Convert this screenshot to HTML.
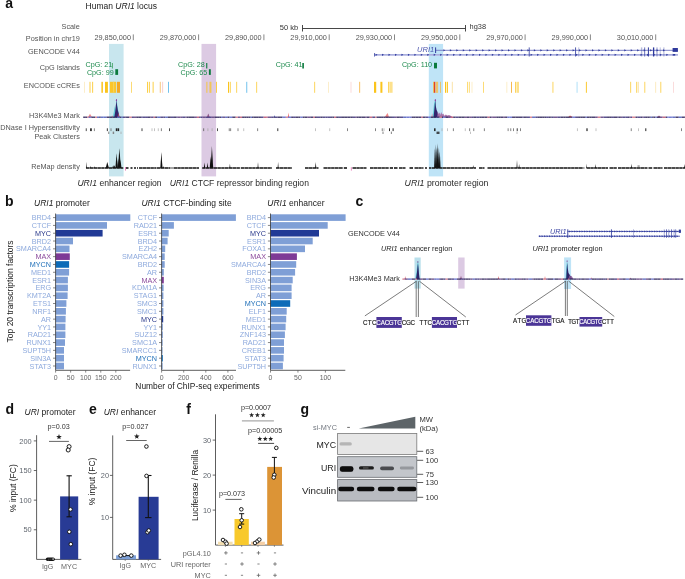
<!DOCTYPE html>
<html><head><meta charset="utf-8"><title>URI1 figure</title>
<style>
html,body{margin:0;padding:0;background:#fff;}
body{width:685px;height:579px;overflow:hidden;font-family:"Liberation Sans", sans-serif;}
svg{display:block;will-change:transform;}
</style></head>
<body>
<svg width="685" height="579" viewBox="0 0 685 579">
<rect x="0" y="0" width="685" height="579" fill="#fff"/>
<text x="5.2" y="7.9" font-size="14" fill="#111" text-anchor="start" font-weight="bold" font-style="normal" font-family="Liberation Sans" >a</text>
<text x="85.6" y="8.7" font-size="8.5" fill="#222" font-family="Liberation Sans">Human <tspan font-style="italic">URI1</tspan> locus</text>
<text x="79.8" y="29.2" font-size="7.3" fill="#555" text-anchor="end" font-weight="normal" font-style="normal" font-family="Liberation Sans" >Scale</text>
<text x="79.8" y="41" font-size="7.3" fill="#555" text-anchor="end" font-weight="normal" font-style="normal" font-family="Liberation Sans" >Position in chr19</text>
<text x="79.8" y="53.5" font-size="7.3" fill="#555" text-anchor="end" font-weight="normal" font-style="normal" font-family="Liberation Sans" >GENCODE V44</text>
<text x="79.8" y="69.9" font-size="7.3" fill="#555" text-anchor="end" font-weight="normal" font-style="normal" font-family="Liberation Sans" >CpG Islands</text>
<text x="79.8" y="88.3" font-size="7.3" fill="#555" text-anchor="end" font-weight="normal" font-style="normal" font-family="Liberation Sans" >ENCODE cCREs</text>
<text x="79.8" y="117.5" font-size="7.3" fill="#555" text-anchor="end" font-weight="normal" font-style="normal" font-family="Liberation Sans" >H3K4Me3 Mark</text>
<text x="79.8" y="130.2" font-size="7.3" fill="#555" text-anchor="end" font-weight="normal" font-style="normal" font-family="Liberation Sans" >DNase I Hypersensitivity</text>
<text x="79.8" y="138.9" font-size="7.3" fill="#555" text-anchor="end" font-weight="normal" font-style="normal" font-family="Liberation Sans" >Peak Clusters</text>
<text x="79.8" y="168.7" font-size="7.3" fill="#555" text-anchor="end" font-weight="normal" font-style="normal" font-family="Liberation Sans" >ReMap density</text>
<rect x="109.00" y="43.90" width="14.60" height="132.50" fill="#c8e6ee" />
<rect x="201.50" y="43.90" width="14.60" height="132.50" fill="#dccae3" />
<rect x="428.80" y="43.90" width="14.30" height="132.50" fill="#bfe4f7" />
<text x="279.8" y="29.6" font-size="7.5" fill="#333" text-anchor="start" font-weight="normal" font-style="normal" font-family="Liberation Sans" >50 kb</text>
<line x1="302.50" y1="28.50" x2="465.50" y2="28.50" stroke="#333" stroke-width="0.9" />
<line x1="302.50" y1="25.00" x2="302.50" y2="31.50" stroke="#333" stroke-width="0.9" />
<line x1="465.50" y1="25.00" x2="465.50" y2="31.50" stroke="#333" stroke-width="0.9" />
<text x="469.6" y="29.3" font-size="7.4" fill="#333" text-anchor="start" font-weight="normal" font-style="normal" font-family="Liberation Sans" >hg38</text>
<text x="131.0" y="40.1" font-size="7.3" fill="#555" text-anchor="end" font-weight="normal" font-style="normal" font-family="Liberation Sans" >29,850,000</text>
<line x1="133.30" y1="34.40" x2="133.30" y2="40.20" stroke="#555" stroke-width="0.7" />
<text x="196.3" y="40.1" font-size="7.3" fill="#555" text-anchor="end" font-weight="normal" font-style="normal" font-family="Liberation Sans" >29,870,000</text>
<line x1="198.60" y1="34.40" x2="198.60" y2="40.20" stroke="#555" stroke-width="0.7" />
<text x="261.59999999999997" y="40.1" font-size="7.3" fill="#555" text-anchor="end" font-weight="normal" font-style="normal" font-family="Liberation Sans" >29,890,000</text>
<line x1="263.90" y1="34.40" x2="263.90" y2="40.20" stroke="#555" stroke-width="0.7" />
<text x="326.9" y="40.1" font-size="7.3" fill="#555" text-anchor="end" font-weight="normal" font-style="normal" font-family="Liberation Sans" >29,910,000</text>
<line x1="329.20" y1="34.40" x2="329.20" y2="40.20" stroke="#555" stroke-width="0.7" />
<text x="392.2" y="40.1" font-size="7.3" fill="#555" text-anchor="end" font-weight="normal" font-style="normal" font-family="Liberation Sans" >29,930,000</text>
<line x1="394.50" y1="34.40" x2="394.50" y2="40.20" stroke="#555" stroke-width="0.7" />
<text x="457.5" y="40.1" font-size="7.3" fill="#555" text-anchor="end" font-weight="normal" font-style="normal" font-family="Liberation Sans" >29,950,000</text>
<line x1="459.80" y1="34.40" x2="459.80" y2="40.20" stroke="#555" stroke-width="0.7" />
<text x="522.8" y="40.1" font-size="7.3" fill="#555" text-anchor="end" font-weight="normal" font-style="normal" font-family="Liberation Sans" >29,970,000</text>
<line x1="525.10" y1="34.40" x2="525.10" y2="40.20" stroke="#555" stroke-width="0.7" />
<text x="588.1" y="40.1" font-size="7.3" fill="#555" text-anchor="end" font-weight="normal" font-style="normal" font-family="Liberation Sans" >29,990,000</text>
<line x1="590.40" y1="34.40" x2="590.40" y2="40.20" stroke="#555" stroke-width="0.7" />
<text x="653.4000000000001" y="40.1" font-size="7.3" fill="#555" text-anchor="end" font-weight="normal" font-style="normal" font-family="Liberation Sans" >30,010,000</text>
<line x1="655.70" y1="34.40" x2="655.70" y2="40.20" stroke="#555" stroke-width="0.7" />
<text x="434.2" y="52.1" font-size="7.5" fill="#4a54ac" font-style="italic" text-anchor="end" font-family="Liberation Sans">URI1</text>
<line x1="436.00" y1="50.30" x2="678.00" y2="50.30" stroke="#7c82c6" stroke-width="1.0" />
<line x1="374.20" y1="54.80" x2="678.00" y2="54.80" stroke="#b8bce6" stroke-width="1.8" />
<line x1="374.20" y1="54.80" x2="678.00" y2="54.80" stroke="#8a90cc" stroke-width="0.4" />
<path d="M443.41,49.20 L445.28,50.30 L443.41,51.40 Z" fill="#2f3a9c"/>
<path d="M449.87,49.20 L451.74,50.30 L449.87,51.40 Z" fill="#2f3a9c"/>
<path d="M456.33,49.20 L458.20,50.30 L456.33,51.40 Z" fill="#2f3a9c"/>
<path d="M462.79,49.20 L464.66,50.30 L462.79,51.40 Z" fill="#2f3a9c"/>
<path d="M469.25,49.20 L471.12,50.30 L469.25,51.40 Z" fill="#2f3a9c"/>
<path d="M475.71,49.20 L477.58,50.30 L475.71,51.40 Z" fill="#2f3a9c"/>
<path d="M482.17,49.20 L484.04,50.30 L482.17,51.40 Z" fill="#2f3a9c"/>
<path d="M488.63,49.20 L490.50,50.30 L488.63,51.40 Z" fill="#2f3a9c"/>
<path d="M495.09,49.20 L496.96,50.30 L495.09,51.40 Z" fill="#2f3a9c"/>
<path d="M501.55,49.20 L503.42,50.30 L501.55,51.40 Z" fill="#2f3a9c"/>
<path d="M508.01,49.20 L509.88,50.30 L508.01,51.40 Z" fill="#2f3a9c"/>
<path d="M514.47,49.20 L516.34,50.30 L514.47,51.40 Z" fill="#2f3a9c"/>
<path d="M520.93,49.20 L522.80,50.30 L520.93,51.40 Z" fill="#2f3a9c"/>
<path d="M527.39,49.20 L529.26,50.30 L527.39,51.40 Z" fill="#2f3a9c"/>
<path d="M533.85,49.20 L535.72,50.30 L533.85,51.40 Z" fill="#2f3a9c"/>
<path d="M540.31,49.20 L542.18,50.30 L540.31,51.40 Z" fill="#2f3a9c"/>
<path d="M546.77,49.20 L548.64,50.30 L546.77,51.40 Z" fill="#2f3a9c"/>
<path d="M553.23,49.20 L555.10,50.30 L553.23,51.40 Z" fill="#2f3a9c"/>
<path d="M559.69,49.20 L561.56,50.30 L559.69,51.40 Z" fill="#2f3a9c"/>
<path d="M566.15,49.20 L568.02,50.30 L566.15,51.40 Z" fill="#2f3a9c"/>
<path d="M572.61,49.20 L574.48,50.30 L572.61,51.40 Z" fill="#2f3a9c"/>
<path d="M579.07,49.20 L580.94,50.30 L579.07,51.40 Z" fill="#2f3a9c"/>
<path d="M585.53,49.20 L587.40,50.30 L585.53,51.40 Z" fill="#2f3a9c"/>
<path d="M591.99,49.20 L593.86,50.30 L591.99,51.40 Z" fill="#2f3a9c"/>
<path d="M598.45,49.20 L600.32,50.30 L598.45,51.40 Z" fill="#2f3a9c"/>
<path d="M604.91,49.20 L606.78,50.30 L604.91,51.40 Z" fill="#2f3a9c"/>
<path d="M611.37,49.20 L613.24,50.30 L611.37,51.40 Z" fill="#2f3a9c"/>
<path d="M617.83,49.20 L619.70,50.30 L617.83,51.40 Z" fill="#2f3a9c"/>
<path d="M624.29,49.20 L626.16,50.30 L624.29,51.40 Z" fill="#2f3a9c"/>
<path d="M630.75,49.20 L632.62,50.30 L630.75,51.40 Z" fill="#2f3a9c"/>
<path d="M637.21,49.20 L639.08,50.30 L637.21,51.40 Z" fill="#2f3a9c"/>
<path d="M643.67,49.20 L645.54,50.30 L643.67,51.40 Z" fill="#2f3a9c"/>
<path d="M650.13,49.20 L652.00,50.30 L650.13,51.40 Z" fill="#2f3a9c"/>
<path d="M656.59,49.20 L658.46,50.30 L656.59,51.40 Z" fill="#2f3a9c"/>
<path d="M663.05,49.20 L664.92,50.30 L663.05,51.40 Z" fill="#2f3a9c"/>
<path d="M375.61,53.70 L377.48,54.80 L375.61,55.90 Z" fill="#2f3a9c"/>
<path d="M382.07,53.70 L383.94,54.80 L382.07,55.90 Z" fill="#2f3a9c"/>
<path d="M388.53,53.70 L390.40,54.80 L388.53,55.90 Z" fill="#2f3a9c"/>
<path d="M394.99,53.70 L396.86,54.80 L394.99,55.90 Z" fill="#2f3a9c"/>
<path d="M401.45,53.70 L403.32,54.80 L401.45,55.90 Z" fill="#2f3a9c"/>
<path d="M407.91,53.70 L409.78,54.80 L407.91,55.90 Z" fill="#2f3a9c"/>
<path d="M414.37,53.70 L416.24,54.80 L414.37,55.90 Z" fill="#2f3a9c"/>
<path d="M420.83,53.70 L422.70,54.80 L420.83,55.90 Z" fill="#2f3a9c"/>
<path d="M427.29,53.70 L429.16,54.80 L427.29,55.90 Z" fill="#2f3a9c"/>
<path d="M433.75,53.70 L435.62,54.80 L433.75,55.90 Z" fill="#2f3a9c"/>
<path d="M440.21,53.70 L442.08,54.80 L440.21,55.90 Z" fill="#2f3a9c"/>
<path d="M446.67,53.70 L448.54,54.80 L446.67,55.90 Z" fill="#2f3a9c"/>
<path d="M453.13,53.70 L455.00,54.80 L453.13,55.90 Z" fill="#2f3a9c"/>
<path d="M459.59,53.70 L461.46,54.80 L459.59,55.90 Z" fill="#2f3a9c"/>
<path d="M466.05,53.70 L467.92,54.80 L466.05,55.90 Z" fill="#2f3a9c"/>
<path d="M472.51,53.70 L474.38,54.80 L472.51,55.90 Z" fill="#2f3a9c"/>
<path d="M478.97,53.70 L480.84,54.80 L478.97,55.90 Z" fill="#2f3a9c"/>
<path d="M485.43,53.70 L487.30,54.80 L485.43,55.90 Z" fill="#2f3a9c"/>
<path d="M491.89,53.70 L493.76,54.80 L491.89,55.90 Z" fill="#2f3a9c"/>
<path d="M498.35,53.70 L500.22,54.80 L498.35,55.90 Z" fill="#2f3a9c"/>
<path d="M504.81,53.70 L506.68,54.80 L504.81,55.90 Z" fill="#2f3a9c"/>
<path d="M511.27,53.70 L513.14,54.80 L511.27,55.90 Z" fill="#2f3a9c"/>
<path d="M517.73,53.70 L519.60,54.80 L517.73,55.90 Z" fill="#2f3a9c"/>
<path d="M524.19,53.70 L526.06,54.80 L524.19,55.90 Z" fill="#2f3a9c"/>
<path d="M530.65,53.70 L532.52,54.80 L530.65,55.90 Z" fill="#2f3a9c"/>
<path d="M537.11,53.70 L538.98,54.80 L537.11,55.90 Z" fill="#2f3a9c"/>
<path d="M543.57,53.70 L545.44,54.80 L543.57,55.90 Z" fill="#2f3a9c"/>
<path d="M550.03,53.70 L551.90,54.80 L550.03,55.90 Z" fill="#2f3a9c"/>
<path d="M556.49,53.70 L558.36,54.80 L556.49,55.90 Z" fill="#2f3a9c"/>
<path d="M562.95,53.70 L564.82,54.80 L562.95,55.90 Z" fill="#2f3a9c"/>
<path d="M569.41,53.70 L571.28,54.80 L569.41,55.90 Z" fill="#2f3a9c"/>
<path d="M575.87,53.70 L577.74,54.80 L575.87,55.90 Z" fill="#2f3a9c"/>
<path d="M582.33,53.70 L584.20,54.80 L582.33,55.90 Z" fill="#2f3a9c"/>
<path d="M588.79,53.70 L590.66,54.80 L588.79,55.90 Z" fill="#2f3a9c"/>
<path d="M595.25,53.70 L597.12,54.80 L595.25,55.90 Z" fill="#2f3a9c"/>
<path d="M601.71,53.70 L603.58,54.80 L601.71,55.90 Z" fill="#2f3a9c"/>
<path d="M608.17,53.70 L610.04,54.80 L608.17,55.90 Z" fill="#2f3a9c"/>
<path d="M614.63,53.70 L616.50,54.80 L614.63,55.90 Z" fill="#2f3a9c"/>
<path d="M621.09,53.70 L622.96,54.80 L621.09,55.90 Z" fill="#2f3a9c"/>
<path d="M627.55,53.70 L629.42,54.80 L627.55,55.90 Z" fill="#2f3a9c"/>
<path d="M634.01,53.70 L635.88,54.80 L634.01,55.90 Z" fill="#2f3a9c"/>
<path d="M640.47,53.70 L642.34,54.80 L640.47,55.90 Z" fill="#2f3a9c"/>
<path d="M646.93,53.70 L648.80,54.80 L646.93,55.90 Z" fill="#2f3a9c"/>
<path d="M653.39,53.70 L655.26,54.80 L653.39,55.90 Z" fill="#2f3a9c"/>
<path d="M659.85,53.70 L661.72,54.80 L659.85,55.90 Z" fill="#2f3a9c"/>
<path d="M666.31,53.70 L668.18,54.80 L666.31,55.90 Z" fill="#2f3a9c"/>
<path d="M672.77,53.70 L674.64,54.80 L672.77,55.90 Z" fill="#2f3a9c"/>
<rect x="374.10" y="53.00" width="0.70" height="3.60" fill="#2f3a9c" />
<rect x="435.10" y="47.40" width="1.00" height="5.60" fill="#2f3a9c" />
<rect x="528.75" y="47.40" width="0.90" height="9.10" fill="#2f3a9c" opacity="0.9"/>
<rect x="575.15" y="47.40" width="0.90" height="9.10" fill="#2f3a9c" opacity="0.9"/>
<rect x="578.40" y="47.40" width="0.80" height="9.10" fill="#2f3a9c" opacity="0.4"/>
<rect x="640.90" y="47.40" width="1.40" height="9.10" fill="#2f3a9c" opacity="0.35"/>
<rect x="644.25" y="47.40" width="0.90" height="9.10" fill="#2f3a9c" opacity="0.8"/>
<rect x="647.90" y="47.40" width="1.00" height="9.10" fill="#2f3a9c" opacity="1.0"/>
<rect x="652.95" y="47.40" width="1.30" height="9.10" fill="#2f3a9c" opacity="1.0"/>
<rect x="656.55" y="47.40" width="0.90" height="9.10" fill="#2f3a9c" opacity="0.6"/>
<rect x="659.75" y="47.40" width="0.90" height="9.10" fill="#2f3a9c" opacity="0.35"/>
<rect x="663.45" y="47.40" width="0.90" height="9.10" fill="#2f3a9c" opacity="0.45"/>
<rect x="672.60" y="48.00" width="5.30" height="3.90" fill="#2f3a9c" />
<rect x="673.60" y="54.00" width="1.60" height="1.60" fill="#2f3a9c" />
<text x="85.5" y="67.4" font-size="7.2" fill="#1d8a4d" text-anchor="start" font-weight="normal" font-style="normal" font-family="Liberation Sans" >CpG: 21</text>
<rect x="111.90" y="63.00" width="1.10" height="5.50" fill="#5cb07e" />
<text x="86.9" y="74.9" font-size="7.2" fill="#1d8a4d" text-anchor="start" font-weight="normal" font-style="normal" font-family="Liberation Sans" >CpG: 99</text>
<rect x="115.30" y="69.20" width="2.80" height="5.70" fill="#0b7a3c" />
<text x="178.0" y="67.4" font-size="7.2" fill="#1d8a4d" text-anchor="start" font-weight="normal" font-style="normal" font-family="Liberation Sans" >CpG: 28</text>
<rect x="206.20" y="63.00" width="1.10" height="5.50" fill="#0b7a3c" />
<text x="180.5" y="74.9" font-size="7.2" fill="#1d8a4d" text-anchor="start" font-weight="normal" font-style="normal" font-family="Liberation Sans" >CpG: 65</text>
<rect x="208.90" y="69.20" width="1.90" height="5.70" fill="#0b7a3c" />
<text x="275.7" y="67.4" font-size="7.2" fill="#1d8a4d" text-anchor="start" font-weight="normal" font-style="normal" font-family="Liberation Sans" >CpG: 41</text>
<rect x="302.30" y="63.00" width="1.60" height="5.50" fill="#0b7a3c" />
<text x="401.9" y="67.4" font-size="7.2" fill="#1d8a4d" text-anchor="start" font-weight="normal" font-style="normal" font-family="Liberation Sans" >CpG: 110</text>
<rect x="434.00" y="62.80" width="3.00" height="5.60" fill="#0b7a3c" />
<rect x="84.40" y="81.80" width="0.60" height="11.00" fill="#fbe3a8" />
<rect x="89.60" y="81.80" width="0.80" height="11.00" fill="#fbc41c" />
<rect x="92.30" y="81.80" width="0.80" height="11.00" fill="#fbc41c" />
<rect x="101.40" y="81.80" width="1.50" height="11.00" fill="#fbc41c" />
<rect x="105.00" y="81.80" width="2.90" height="11.00" fill="#fbc41c" />
<rect x="110.00" y="81.80" width="6.20" height="11.00" fill="#fbc62a" />
<rect x="113.00" y="81.80" width="1.20" height="11.00" fill="#f6d25a" />
<rect x="117.00" y="81.80" width="3.00" height="11.00" fill="#f4a824" />
<rect x="131.20" y="81.80" width="0.60" height="11.00" fill="#fbc41c" />
<rect x="147.10" y="81.80" width="0.80" height="11.00" fill="#fbc41c" />
<rect x="148.90" y="81.80" width="0.80" height="11.00" fill="#fbc41c" />
<rect x="152.70" y="81.80" width="0.80" height="11.00" fill="#fbc41c" />
<rect x="159.70" y="81.80" width="1.30" height="11.00" fill="#f8d39a" />
<rect x="162.30" y="81.80" width="0.80" height="11.00" fill="#f7c4c4" />
<rect x="168.10" y="81.80" width="0.80" height="11.00" fill="#4fb3e8" />
<rect x="206.50" y="81.80" width="0.80" height="11.00" fill="#fbc41c" />
<rect x="209.60" y="81.80" width="0.80" height="11.00" fill="#fbc41c" />
<rect x="210.50" y="81.80" width="0.80" height="11.00" fill="#fbc41c" />
<rect x="216.10" y="81.80" width="0.80" height="11.00" fill="#fbc41c" />
<rect x="228.00" y="81.80" width="1.00" height="11.00" fill="#fbc41c" />
<rect x="229.80" y="81.80" width="0.80" height="11.00" fill="#fbc41c" />
<rect x="236.40" y="81.80" width="0.70" height="11.00" fill="#fbc41c" />
<rect x="246.40" y="81.80" width="0.80" height="11.00" fill="#4fb3e8" />
<rect x="256.40" y="81.80" width="0.70" height="11.00" fill="#fbc41c" />
<rect x="314.40" y="81.80" width="0.70" height="11.00" fill="#fbc41c" />
<rect x="328.40" y="81.80" width="0.60" height="11.00" fill="#fbe3a8" />
<rect x="350.70" y="81.80" width="0.60" height="11.00" fill="#f7c4c4" />
<rect x="359.40" y="81.80" width="0.70" height="11.00" fill="#f4a824" />
<rect x="374.00" y="81.80" width="2.20" height="11.00" fill="#fbc41c" />
<rect x="380.40" y="81.80" width="2.00" height="11.00" fill="#fbc41c" />
<rect x="388.30" y="81.80" width="0.80" height="11.00" fill="#fbc41c" />
<rect x="389.70" y="81.80" width="0.80" height="11.00" fill="#fbc41c" />
<rect x="391.50" y="81.80" width="0.80" height="11.00" fill="#fbc41c" />
<rect x="433.00" y="81.80" width="0.70" height="11.00" fill="#fbc41c" />
<rect x="433.90" y="81.80" width="1.40" height="11.00" fill="#e3402a" />
<rect x="435.60" y="81.80" width="2.50" height="11.00" fill="#ebc064" />
<rect x="436.80" y="81.80" width="0.50" height="11.00" fill="#f3d488" />
<rect x="440.00" y="81.80" width="0.90" height="11.00" fill="#e9c062" />
<rect x="445.00" y="81.80" width="1.10" height="11.00" fill="#fbc41c" />
<rect x="446.80" y="81.80" width="1.10" height="11.00" fill="#fbc41c" />
<rect x="451.80" y="81.80" width="1.00" height="11.00" fill="#fbe3a8" />
<rect x="467.10" y="81.80" width="0.60" height="11.00" fill="#fbc41c" />
<rect x="468.90" y="81.80" width="0.60" height="11.00" fill="#fbc41c" />
<rect x="471.70" y="81.80" width="0.60" height="11.00" fill="#fbe3a8" />
<rect x="483.40" y="81.80" width="0.60" height="11.00" fill="#fbc41c" />
<rect x="506.60" y="81.80" width="0.60" height="11.00" fill="#fbe3a8" />
<rect x="511.10" y="81.80" width="0.80" height="11.00" fill="#f4a824" />
<rect x="515.30" y="81.80" width="1.00" height="11.00" fill="#fbc41c" />
<rect x="517.50" y="81.80" width="1.00" height="11.00" fill="#fbc41c" />
<rect x="552.60" y="81.80" width="0.70" height="11.00" fill="#fbc41c" />
<rect x="576.70" y="81.80" width="0.70" height="11.00" fill="#8fd3f4" />
<rect x="585.90" y="81.80" width="0.90" height="11.00" fill="#fbc41c" />
<rect x="630.40" y="81.80" width="0.70" height="11.00" fill="#fbc41c" />
<rect x="636.40" y="81.80" width="0.80" height="11.00" fill="#fbc41c" />
<rect x="638.00" y="81.80" width="0.80" height="11.00" fill="#fbe3a8" />
<rect x="644.50" y="81.80" width="0.70" height="11.00" fill="#fbc41c" />
<rect x="655.40" y="81.80" width="0.70" height="11.00" fill="#fbe3a8" />
<rect x="660.50" y="81.80" width="0.70" height="11.00" fill="#fbc41c" />
<rect x="673.30" y="81.80" width="0.60" height="11.00" fill="#f7c4c4" />
<polygon points="88.00,117.20 90.00,113.80 92.00,117.20" fill="#f08a8a" />
<polygon points="112.80,117.20 114.00,111.00 114.60,105.70 115.10,110.00 115.80,106.50 116.20,99.40 116.70,99.40 117.40,106.00 118.50,112.00 119.70,117.20" fill="#62c9d6" />
<polygon points="114.30,117.20 115.30,111.00 115.90,105.00 116.45,100.60 117.00,105.00 117.90,110.50 118.80,113.80 119.30,117.20" fill="#33256e" />
<polygon points="117.60,117.20 118.30,112.50 119.60,117.20" fill="#a0406a" />
<ellipse cx="116.45" cy="100.3" rx="0.55" ry="1.3" fill="#8a3a9a"/>
<polygon points="111.50,117.20 112.20,115.30 113.00,117.20" fill="#e07a8a" />
<polygon points="207.00,117.20 208.30,113.40 209.60,117.20" fill="#7a4a8a" />
<polygon points="207.60,117.20 208.00,114.20 208.50,117.20" fill="#e07a8a" />
<polygon points="287.80,117.20 288.50,112.50 289.20,117.20" fill="#f07070" />
<polygon points="384.70,117.20 386.30,114.80 387.70,112.90 389.00,117.20" fill="#f08a8a" />
<polygon points="274.00,117.20 274.60,115.00 275.20,117.20" fill="#5a64c8" />
<polygon points="431.30,117.20 432.20,113.20 433.00,117.20" fill="#e58aa0" />
<polygon points="432.60,117.20 433.40,110.00 434.10,103.50 434.70,101.20 435.40,99.30 435.90,105.00 436.50,117.20" fill="#62c9d6" />
<polygon points="433.60,117.20 434.50,108.00 435.20,99.80 435.80,106.00 436.60,110.00 437.60,112.20 438.60,117.20" fill="#33256e" />
<polygon points="437.00,117.20 437.80,111.50 438.60,114.00 439.50,112.60 440.30,115.00 441.20,111.90 442.20,114.50 443.30,113.40 444.40,115.80 445.80,114.60 447.40,115.60 449.00,114.90 451.00,115.90 452.80,117.20" fill="#a0609e" opacity="0.85"/>
<ellipse cx="435.3" cy="100.2" rx="0.55" ry="1.3" fill="#8a3a9a"/>
<polygon points="568.00,117.20 570.00,115.60 573.00,117.20" fill="#e07070" />
<polygon points="657.00,117.20 659.00,115.60 661.00,117.20" fill="#b070a0" />
<rect x="83.20" y="116.58" width="1.94" height="1.25" fill="#2b2157" />
<rect x="85.14" y="116.58" width="2.11" height="1.25" fill="#2b2157" />
<rect x="87.25" y="116.58" width="1.37" height="1.25" fill="#d07080" />
<rect x="88.62" y="116.58" width="1.42" height="1.25" fill="#4a5ab8" />
<rect x="90.04" y="116.58" width="1.33" height="1.25" fill="#5a64c8" />
<rect x="91.37" y="116.58" width="1.69" height="1.25" fill="#2b2157" />
<rect x="93.06" y="116.58" width="2.20" height="1.25" fill="#2b2157" />
<rect x="95.26" y="116.58" width="1.75" height="1.25" fill="#d07080" />
<rect x="97.01" y="116.58" width="2.18" height="1.25" fill="#4a5ab8" />
<rect x="99.19" y="116.58" width="1.48" height="1.25" fill="#2b2157" />
<rect x="100.68" y="116.58" width="2.65" height="1.25" fill="#4a5ab8" />
<rect x="103.33" y="116.58" width="3.38" height="1.25" fill="#4a5ab8" />
<rect x="106.71" y="116.58" width="2.55" height="1.25" fill="#2b2157" />
<rect x="109.25" y="116.58" width="3.45" height="1.25" fill="#2b2157" />
<rect x="112.70" y="116.58" width="2.48" height="1.25" fill="#2b2157" />
<rect x="115.18" y="116.58" width="1.87" height="1.25" fill="#2b2157" />
<rect x="117.04" y="116.58" width="2.44" height="1.25" fill="#4a5ab8" />
<rect x="119.49" y="116.58" width="1.91" height="1.25" fill="#2b2157" />
<rect x="121.40" y="116.58" width="1.44" height="1.25" fill="#4a5ab8" />
<rect x="122.83" y="116.58" width="2.67" height="1.25" fill="#3a2f78" />
<rect x="125.50" y="116.58" width="1.42" height="1.25" fill="#2b2157" />
<rect x="126.93" y="116.58" width="2.50" height="1.25" fill="#2b2157" />
<rect x="129.43" y="116.58" width="2.34" height="1.25" fill="#d07080" />
<rect x="131.77" y="116.58" width="2.18" height="1.25" fill="#3a2f78" />
<rect x="133.95" y="116.58" width="2.27" height="1.25" fill="#5a3a7a" />
<rect x="136.22" y="116.58" width="2.03" height="1.25" fill="#2b2157" />
<rect x="138.25" y="116.58" width="3.03" height="1.25" fill="#2b2157" />
<rect x="141.28" y="116.58" width="1.39" height="1.25" fill="#3a2f78" />
<rect x="142.67" y="116.58" width="2.41" height="1.25" fill="#3a2f78" />
<rect x="145.08" y="116.58" width="2.88" height="1.25" fill="#3a2f78" />
<rect x="147.95" y="116.58" width="2.60" height="1.25" fill="#2b2157" />
<rect x="150.56" y="116.58" width="1.47" height="1.25" fill="#5a3a7a" />
<rect x="152.03" y="116.58" width="1.58" height="1.25" fill="#3a2f78" />
<rect x="153.61" y="116.58" width="1.55" height="1.25" fill="#b8506e" />
<rect x="155.16" y="116.58" width="2.17" height="1.25" fill="#2b2157" />
<rect x="157.33" y="116.58" width="2.96" height="1.25" fill="#4a5ab8" />
<rect x="160.28" y="116.58" width="3.01" height="1.25" fill="#3a2f78" />
<rect x="163.30" y="116.58" width="1.98" height="1.25" fill="#3a2f78" />
<rect x="165.28" y="116.58" width="2.57" height="1.25" fill="#4a5ab8" />
<rect x="167.85" y="116.58" width="3.03" height="1.25" fill="#2b2157" />
<rect x="170.88" y="116.58" width="3.13" height="1.25" fill="#3a2f78" />
<rect x="174.01" y="116.58" width="2.29" height="1.25" fill="#2b2157" />
<rect x="176.30" y="116.58" width="1.34" height="1.25" fill="#3a2f78" />
<rect x="177.64" y="116.58" width="2.69" height="1.25" fill="#5a3a7a" />
<rect x="180.33" y="116.58" width="1.85" height="1.25" fill="#5a3a7a" />
<rect x="182.19" y="116.58" width="3.24" height="1.25" fill="#3a2f78" />
<rect x="185.43" y="116.58" width="1.25" height="1.25" fill="#5a3a7a" />
<rect x="186.68" y="116.58" width="2.02" height="1.25" fill="#2b2157" />
<rect x="188.70" y="116.58" width="2.34" height="1.25" fill="#2b2157" />
<rect x="191.03" y="116.58" width="2.97" height="1.25" fill="#2b2157" />
<rect x="194.00" y="116.58" width="2.90" height="1.25" fill="#5a3a7a" />
<rect x="196.90" y="116.58" width="2.10" height="1.25" fill="#b8506e" />
<rect x="199.00" y="116.58" width="1.39" height="1.25" fill="#5a3a7a" />
<rect x="200.38" y="116.58" width="2.12" height="1.25" fill="#3a2f78" />
<rect x="202.50" y="116.58" width="3.23" height="1.25" fill="#5a3a7a" />
<rect x="205.74" y="116.58" width="3.19" height="1.25" fill="#3a2f78" />
<rect x="208.92" y="116.58" width="2.82" height="1.25" fill="#3a2f78" />
<rect x="211.75" y="116.58" width="2.77" height="1.25" fill="#5a3a7a" />
<rect x="214.52" y="116.58" width="3.40" height="1.25" fill="#2b2157" />
<rect x="217.92" y="116.58" width="1.39" height="1.25" fill="#2b2157" />
<rect x="219.31" y="116.58" width="1.73" height="1.25" fill="#2b2157" />
<rect x="221.05" y="116.58" width="1.23" height="1.25" fill="#4a5ab8" />
<rect x="222.27" y="116.58" width="1.62" height="1.25" fill="#3a2f78" />
<rect x="223.89" y="116.58" width="1.21" height="1.25" fill="#5a3a7a" />
<rect x="225.10" y="116.58" width="2.43" height="1.25" fill="#4a5ab8" />
<rect x="227.53" y="116.58" width="1.93" height="1.25" fill="#2b2157" />
<rect x="229.46" y="116.58" width="2.79" height="1.25" fill="#5a64c8" />
<rect x="232.25" y="116.58" width="3.39" height="1.25" fill="#2b2157" />
<rect x="235.64" y="116.58" width="2.25" height="1.25" fill="#d07080" />
<rect x="237.89" y="116.58" width="2.10" height="1.25" fill="#5a3a7a" />
<rect x="239.99" y="116.58" width="2.11" height="1.25" fill="#b8506e" />
<rect x="242.10" y="116.58" width="2.66" height="1.25" fill="#2b2157" />
<rect x="244.76" y="116.58" width="1.64" height="1.25" fill="#2b2157" />
<rect x="246.39" y="116.58" width="2.21" height="1.25" fill="#2b2157" />
<rect x="248.61" y="116.58" width="1.98" height="1.25" fill="#2b2157" />
<rect x="250.59" y="116.58" width="1.44" height="1.25" fill="#4a5ab8" />
<rect x="252.03" y="116.58" width="1.55" height="1.25" fill="#2b2157" />
<rect x="253.57" y="116.58" width="3.38" height="1.25" fill="#2b2157" />
<rect x="256.96" y="116.58" width="1.36" height="1.25" fill="#2b2157" />
<rect x="258.32" y="116.58" width="2.61" height="1.25" fill="#2b2157" />
<rect x="260.93" y="116.58" width="2.66" height="1.25" fill="#3a2f78" />
<rect x="263.59" y="116.58" width="2.59" height="1.25" fill="#b8506e" />
<rect x="266.17" y="116.58" width="1.48" height="1.25" fill="#b8506e" />
<rect x="267.66" y="116.58" width="3.48" height="1.25" fill="#5a3a7a" />
<rect x="271.14" y="116.58" width="2.30" height="1.25" fill="#3a2f78" />
<rect x="273.45" y="116.58" width="1.40" height="1.25" fill="#2b2157" />
<rect x="274.84" y="116.58" width="2.92" height="1.25" fill="#3a2f78" />
<rect x="277.77" y="116.58" width="2.30" height="1.25" fill="#2b2157" />
<rect x="280.07" y="116.58" width="2.39" height="1.25" fill="#2b2157" />
<rect x="282.46" y="116.58" width="3.39" height="1.25" fill="#5a64c8" />
<rect x="285.84" y="116.58" width="2.03" height="1.25" fill="#d07080" />
<rect x="287.88" y="116.58" width="3.30" height="1.25" fill="#5a64c8" />
<rect x="291.18" y="116.58" width="1.89" height="1.25" fill="#2b2157" />
<rect x="293.06" y="116.58" width="2.80" height="1.25" fill="#3a2f78" />
<rect x="295.87" y="116.58" width="2.39" height="1.25" fill="#2b2157" />
<rect x="298.26" y="116.58" width="2.02" height="1.25" fill="#2b2157" />
<rect x="300.28" y="116.58" width="2.42" height="1.25" fill="#5a64c8" />
<rect x="302.70" y="116.58" width="1.96" height="1.25" fill="#2b2157" />
<rect x="304.66" y="116.58" width="2.61" height="1.25" fill="#2b2157" />
<rect x="307.27" y="116.58" width="3.05" height="1.25" fill="#5a3a7a" />
<rect x="310.32" y="116.58" width="2.90" height="1.25" fill="#2b2157" />
<rect x="313.22" y="116.58" width="1.66" height="1.25" fill="#b8506e" />
<rect x="314.88" y="116.58" width="2.02" height="1.25" fill="#2b2157" />
<rect x="316.90" y="116.58" width="3.48" height="1.25" fill="#3a2f78" />
<rect x="320.38" y="116.58" width="2.29" height="1.25" fill="#2b2157" />
<rect x="322.66" y="116.58" width="2.79" height="1.25" fill="#3a2f78" />
<rect x="325.46" y="116.58" width="2.23" height="1.25" fill="#3a2f78" />
<rect x="327.69" y="116.58" width="3.40" height="1.25" fill="#3a2f78" />
<rect x="331.08" y="116.58" width="1.39" height="1.25" fill="#2b2157" />
<rect x="332.47" y="116.58" width="1.72" height="1.25" fill="#2b2157" />
<rect x="334.19" y="116.58" width="1.98" height="1.25" fill="#b8506e" />
<rect x="336.17" y="116.58" width="2.64" height="1.25" fill="#2b2157" />
<rect x="338.80" y="116.58" width="2.30" height="1.25" fill="#3a2f78" />
<rect x="341.10" y="116.58" width="3.04" height="1.25" fill="#2b2157" />
<rect x="344.14" y="116.58" width="3.12" height="1.25" fill="#2b2157" />
<rect x="347.26" y="116.58" width="3.29" height="1.25" fill="#2b2157" />
<rect x="350.56" y="116.58" width="2.30" height="1.25" fill="#2b2157" />
<rect x="352.86" y="116.58" width="2.20" height="1.25" fill="#3a2f78" />
<rect x="355.05" y="116.58" width="1.40" height="1.25" fill="#5a3a7a" />
<rect x="356.45" y="116.58" width="2.27" height="1.25" fill="#2b2157" />
<rect x="358.72" y="116.58" width="2.87" height="1.25" fill="#2b2157" />
<rect x="361.59" y="116.58" width="3.48" height="1.25" fill="#2b2157" />
<rect x="365.07" y="116.58" width="1.55" height="1.25" fill="#5a3a7a" />
<rect x="366.62" y="116.58" width="3.05" height="1.25" fill="#2b2157" />
<rect x="369.67" y="116.58" width="2.61" height="1.25" fill="#b8506e" />
<rect x="372.28" y="116.58" width="2.71" height="1.25" fill="#3a2f78" />
<rect x="374.99" y="116.58" width="1.56" height="1.25" fill="#d07080" />
<rect x="376.55" y="116.58" width="1.50" height="1.25" fill="#2b2157" />
<rect x="378.05" y="116.58" width="3.04" height="1.25" fill="#2b2157" />
<rect x="381.09" y="116.58" width="2.41" height="1.25" fill="#2b2157" />
<rect x="383.50" y="116.58" width="2.20" height="1.25" fill="#2b2157" />
<rect x="385.70" y="116.58" width="3.10" height="1.25" fill="#2b2157" />
<rect x="388.80" y="116.58" width="1.26" height="1.25" fill="#2b2157" />
<rect x="390.06" y="116.58" width="1.87" height="1.25" fill="#2b2157" />
<rect x="391.94" y="116.58" width="2.96" height="1.25" fill="#3a2f78" />
<rect x="394.89" y="116.58" width="1.80" height="1.25" fill="#5a3a7a" />
<rect x="396.69" y="116.58" width="3.12" height="1.25" fill="#2b2157" />
<rect x="399.81" y="116.58" width="3.29" height="1.25" fill="#3a2f78" />
<rect x="403.10" y="116.58" width="3.26" height="1.25" fill="#4a5ab8" />
<rect x="406.37" y="116.58" width="3.07" height="1.25" fill="#5a64c8" />
<rect x="409.44" y="116.58" width="2.17" height="1.25" fill="#5a64c8" />
<rect x="411.61" y="116.58" width="1.50" height="1.25" fill="#2b2157" />
<rect x="413.11" y="116.58" width="2.40" height="1.25" fill="#2b2157" />
<rect x="415.51" y="116.58" width="3.21" height="1.25" fill="#2b2157" />
<rect x="418.72" y="116.58" width="2.60" height="1.25" fill="#2b2157" />
<rect x="421.32" y="116.58" width="1.60" height="1.25" fill="#b8506e" />
<rect x="422.92" y="116.58" width="2.62" height="1.25" fill="#2b2157" />
<rect x="425.54" y="116.58" width="2.48" height="1.25" fill="#3a2f78" />
<rect x="428.02" y="116.58" width="2.77" height="1.25" fill="#5a64c8" />
<rect x="430.79" y="116.58" width="2.48" height="1.25" fill="#2b2157" />
<rect x="433.27" y="116.58" width="3.23" height="1.25" fill="#2b2157" />
<rect x="436.50" y="116.58" width="1.77" height="1.25" fill="#3a2f78" />
<rect x="438.27" y="116.58" width="1.30" height="1.25" fill="#2b2157" />
<rect x="439.57" y="116.58" width="2.37" height="1.25" fill="#d07080" />
<rect x="441.93" y="116.58" width="1.26" height="1.25" fill="#2b2157" />
<rect x="443.20" y="116.58" width="2.22" height="1.25" fill="#5a64c8" />
<rect x="445.42" y="116.58" width="2.59" height="1.25" fill="#2b2157" />
<rect x="448.01" y="116.58" width="2.79" height="1.25" fill="#5a3a7a" />
<rect x="450.81" y="116.58" width="2.37" height="1.25" fill="#b8506e" />
<rect x="453.17" y="116.58" width="2.37" height="1.25" fill="#2b2157" />
<rect x="455.54" y="116.58" width="2.81" height="1.25" fill="#3a2f78" />
<rect x="458.35" y="116.58" width="3.32" height="1.25" fill="#2b2157" />
<rect x="461.67" y="116.58" width="3.13" height="1.25" fill="#2b2157" />
<rect x="464.80" y="116.58" width="2.16" height="1.25" fill="#5a3a7a" />
<rect x="466.96" y="116.58" width="2.22" height="1.25" fill="#2b2157" />
<rect x="469.18" y="116.58" width="2.74" height="1.25" fill="#5a3a7a" />
<rect x="471.92" y="116.58" width="1.37" height="1.25" fill="#3a2f78" />
<rect x="473.29" y="116.58" width="3.00" height="1.25" fill="#2b2157" />
<rect x="476.29" y="116.58" width="3.36" height="1.25" fill="#3a2f78" />
<rect x="479.66" y="116.58" width="1.53" height="1.25" fill="#2b2157" />
<rect x="481.18" y="116.58" width="3.43" height="1.25" fill="#2b2157" />
<rect x="484.61" y="116.58" width="2.92" height="1.25" fill="#2b2157" />
<rect x="487.53" y="116.58" width="2.12" height="1.25" fill="#b8506e" />
<rect x="489.64" y="116.58" width="1.57" height="1.25" fill="#2b2157" />
<rect x="491.22" y="116.58" width="1.57" height="1.25" fill="#5a3a7a" />
<rect x="492.79" y="116.58" width="3.49" height="1.25" fill="#5a3a7a" />
<rect x="496.28" y="116.58" width="1.98" height="1.25" fill="#2b2157" />
<rect x="498.26" y="116.58" width="2.02" height="1.25" fill="#2b2157" />
<rect x="500.28" y="116.58" width="2.86" height="1.25" fill="#2b2157" />
<rect x="503.14" y="116.58" width="1.98" height="1.25" fill="#5a3a7a" />
<rect x="505.11" y="116.58" width="2.21" height="1.25" fill="#2b2157" />
<rect x="507.33" y="116.58" width="2.08" height="1.25" fill="#5a64c8" />
<rect x="509.41" y="116.58" width="2.64" height="1.25" fill="#5a64c8" />
<rect x="512.05" y="116.58" width="3.41" height="1.25" fill="#2b2157" />
<rect x="515.46" y="116.58" width="3.47" height="1.25" fill="#2b2157" />
<rect x="518.92" y="116.58" width="3.43" height="1.25" fill="#2b2157" />
<rect x="522.36" y="116.58" width="1.39" height="1.25" fill="#3a2f78" />
<rect x="523.75" y="116.58" width="1.29" height="1.25" fill="#2b2157" />
<rect x="525.04" y="116.58" width="1.82" height="1.25" fill="#2b2157" />
<rect x="526.86" y="116.58" width="3.09" height="1.25" fill="#3a2f78" />
<rect x="529.95" y="116.58" width="2.13" height="1.25" fill="#d07080" />
<rect x="532.08" y="116.58" width="3.31" height="1.25" fill="#4a5ab8" />
<rect x="535.40" y="116.58" width="2.34" height="1.25" fill="#3a2f78" />
<rect x="537.73" y="116.58" width="1.41" height="1.25" fill="#2b2157" />
<rect x="539.14" y="116.58" width="3.04" height="1.25" fill="#2b2157" />
<rect x="542.18" y="116.58" width="2.18" height="1.25" fill="#2b2157" />
<rect x="544.36" y="116.58" width="1.82" height="1.25" fill="#2b2157" />
<rect x="546.17" y="116.58" width="2.66" height="1.25" fill="#3a2f78" />
<rect x="548.83" y="116.58" width="1.39" height="1.25" fill="#2b2157" />
<rect x="550.23" y="116.58" width="1.35" height="1.25" fill="#2b2157" />
<rect x="551.58" y="116.58" width="2.24" height="1.25" fill="#3a2f78" />
<rect x="553.82" y="116.58" width="3.49" height="1.25" fill="#5a3a7a" />
<rect x="557.31" y="116.58" width="3.33" height="1.25" fill="#3a2f78" />
<rect x="560.64" y="116.58" width="2.63" height="1.25" fill="#2b2157" />
<rect x="563.27" y="116.58" width="2.41" height="1.25" fill="#2b2157" />
<rect x="565.68" y="116.58" width="3.36" height="1.25" fill="#2b2157" />
<rect x="569.04" y="116.58" width="1.80" height="1.25" fill="#2b2157" />
<rect x="570.84" y="116.58" width="1.66" height="1.25" fill="#3a2f78" />
<rect x="572.51" y="116.58" width="2.65" height="1.25" fill="#5a64c8" />
<rect x="575.15" y="116.58" width="2.95" height="1.25" fill="#3a2f78" />
<rect x="578.10" y="116.58" width="2.23" height="1.25" fill="#2b2157" />
<rect x="580.33" y="116.58" width="1.82" height="1.25" fill="#2b2157" />
<rect x="582.15" y="116.58" width="3.49" height="1.25" fill="#2b2157" />
<rect x="585.64" y="116.58" width="1.24" height="1.25" fill="#5a64c8" />
<rect x="586.87" y="116.58" width="2.47" height="1.25" fill="#2b2157" />
<rect x="589.34" y="116.58" width="2.38" height="1.25" fill="#2b2157" />
<rect x="591.72" y="116.58" width="3.35" height="1.25" fill="#2b2157" />
<rect x="595.07" y="116.58" width="2.71" height="1.25" fill="#5a3a7a" />
<rect x="597.78" y="116.58" width="2.71" height="1.25" fill="#d07080" />
<rect x="600.49" y="116.58" width="3.12" height="1.25" fill="#5a3a7a" />
<rect x="603.61" y="116.58" width="3.43" height="1.25" fill="#3a2f78" />
<rect x="607.05" y="116.58" width="2.78" height="1.25" fill="#2b2157" />
<rect x="609.83" y="116.58" width="1.99" height="1.25" fill="#2b2157" />
<rect x="611.82" y="116.58" width="2.13" height="1.25" fill="#3a2f78" />
<rect x="613.95" y="116.58" width="3.46" height="1.25" fill="#2b2157" />
<rect x="617.40" y="116.58" width="1.23" height="1.25" fill="#3a2f78" />
<rect x="618.64" y="116.58" width="2.19" height="1.25" fill="#2b2157" />
<rect x="620.83" y="116.58" width="1.39" height="1.25" fill="#5a3a7a" />
<rect x="622.22" y="116.58" width="3.20" height="1.25" fill="#3a2f78" />
<rect x="625.43" y="116.58" width="2.58" height="1.25" fill="#3a2f78" />
<rect x="628.00" y="116.58" width="1.30" height="1.25" fill="#2b2157" />
<rect x="629.31" y="116.58" width="1.56" height="1.25" fill="#5a3a7a" />
<rect x="630.87" y="116.58" width="1.21" height="1.25" fill="#3a2f78" />
<rect x="632.08" y="116.58" width="3.41" height="1.25" fill="#d07080" />
<rect x="635.49" y="116.58" width="1.94" height="1.25" fill="#2b2157" />
<rect x="637.43" y="116.58" width="3.42" height="1.25" fill="#3a2f78" />
<rect x="640.85" y="116.58" width="1.70" height="1.25" fill="#2b2157" />
<rect x="642.56" y="116.58" width="1.20" height="1.25" fill="#5a3a7a" />
<rect x="643.76" y="116.58" width="1.39" height="1.25" fill="#3a2f78" />
<rect x="645.15" y="116.58" width="2.36" height="1.25" fill="#2b2157" />
<rect x="647.51" y="116.58" width="1.77" height="1.25" fill="#2b2157" />
<rect x="649.28" y="116.58" width="1.41" height="1.25" fill="#2b2157" />
<rect x="650.69" y="116.58" width="1.53" height="1.25" fill="#4a5ab8" />
<rect x="652.22" y="116.58" width="1.30" height="1.25" fill="#2b2157" />
<rect x="653.51" y="116.58" width="1.89" height="1.25" fill="#2b2157" />
<rect x="655.40" y="116.58" width="1.39" height="1.25" fill="#5a64c8" />
<rect x="656.80" y="116.58" width="3.16" height="1.25" fill="#2b2157" />
<rect x="659.96" y="116.58" width="2.71" height="1.25" fill="#5a3a7a" />
<rect x="662.67" y="116.58" width="2.96" height="1.25" fill="#b8506e" />
<rect x="665.63" y="116.58" width="1.54" height="1.25" fill="#2b2157" />
<rect x="667.17" y="116.58" width="1.30" height="1.25" fill="#5a64c8" />
<rect x="668.47" y="116.58" width="2.64" height="1.25" fill="#5a64c8" />
<rect x="671.12" y="116.58" width="1.52" height="1.25" fill="#5a64c8" />
<rect x="672.64" y="116.58" width="2.93" height="1.25" fill="#4a5ab8" />
<rect x="675.57" y="116.58" width="3.12" height="1.25" fill="#2b2157" />
<rect x="678.69" y="116.58" width="3.10" height="1.25" fill="#4a5ab8" />
<rect x="681.79" y="116.58" width="3.04" height="1.25" fill="#2b2157" />
<rect x="684.83" y="116.58" width="0.17" height="1.25" fill="#2b2157" />
<rect x="85.80" y="128.30" width="0.80" height="2.80" fill="#222" />
<rect x="90.05" y="128.30" width="0.90" height="2.80" fill="#222" />
<rect x="91.20" y="128.30" width="0.80" height="2.80" fill="#222" />
<rect x="93.90" y="128.30" width="0.80" height="2.80" fill="#666" />
<rect x="106.85" y="128.30" width="0.90" height="2.80" fill="#222" />
<rect x="110.60" y="128.30" width="0.80" height="2.80" fill="#666" />
<rect x="115.80" y="128.30" width="1.60" height="2.80" fill="#222" />
<rect x="117.65" y="128.30" width="1.50" height="2.80" fill="#222" />
<rect x="141.40" y="128.30" width="1.20" height="2.80" fill="#666" />
<rect x="151.65" y="128.30" width="0.70" height="2.80" fill="#aaa" />
<rect x="154.05" y="128.30" width="0.70" height="2.80" fill="#aaa" />
<rect x="157.85" y="128.30" width="0.70" height="2.80" fill="#aaa" />
<rect x="160.90" y="128.30" width="0.80" height="2.80" fill="#666" />
<rect x="169.20" y="128.30" width="0.80" height="2.80" fill="#222" />
<rect x="203.25" y="128.30" width="0.90" height="2.80" fill="#666" />
<rect x="207.50" y="128.30" width="0.80" height="2.80" fill="#aaa" />
<rect x="211.70" y="128.30" width="0.80" height="2.80" fill="#aaa" />
<rect x="217.20" y="128.30" width="0.80" height="2.80" fill="#222" />
<rect x="228.80" y="128.30" width="0.80" height="2.80" fill="#666" />
<rect x="230.30" y="128.30" width="0.80" height="2.80" fill="#666" />
<rect x="237.60" y="128.30" width="0.80" height="2.80" fill="#666" />
<rect x="243.45" y="128.30" width="0.70" height="2.80" fill="#aaa" />
<rect x="257.30" y="128.30" width="0.80" height="2.80" fill="#666" />
<rect x="277.35" y="128.30" width="0.90" height="2.80" fill="#222" />
<rect x="315.15" y="128.30" width="0.70" height="2.80" fill="#aaa" />
<rect x="329.45" y="128.30" width="0.70" height="2.80" fill="#aaa" />
<rect x="347.10" y="128.30" width="0.80" height="2.80" fill="#666" />
<rect x="375.00" y="128.30" width="0.80" height="2.80" fill="#666" />
<rect x="381.80" y="128.30" width="0.80" height="2.80" fill="#666" />
<rect x="383.65" y="128.30" width="0.70" height="2.80" fill="#aaa" />
<rect x="389.00" y="128.30" width="1.00" height="2.80" fill="#222" />
<rect x="392.60" y="128.30" width="1.00" height="2.80" fill="#222" />
<rect x="434.05" y="128.30" width="1.50" height="2.80" fill="#222" />
<rect x="441.65" y="128.30" width="0.70" height="2.80" fill="#aaa" />
<rect x="447.15" y="128.30" width="0.70" height="2.80" fill="#aaa" />
<rect x="452.90" y="128.30" width="0.80" height="2.80" fill="#666" />
<rect x="464.85" y="128.30" width="0.70" height="2.80" fill="#aaa" />
<rect x="469.30" y="128.30" width="0.80" height="2.80" fill="#666" />
<rect x="473.40" y="128.30" width="0.80" height="2.80" fill="#666" />
<rect x="483.90" y="128.30" width="0.80" height="2.80" fill="#666" />
<rect x="507.70" y="128.30" width="0.80" height="2.80" fill="#666" />
<rect x="510.40" y="128.30" width="0.80" height="2.80" fill="#666" />
<rect x="513.10" y="128.30" width="0.80" height="2.80" fill="#666" />
<rect x="516.75" y="128.30" width="0.90" height="2.80" fill="#222" />
<rect x="520.10" y="128.30" width="0.80" height="2.80" fill="#666" />
<rect x="576.95" y="128.30" width="0.70" height="2.80" fill="#aaa" />
<rect x="586.40" y="128.30" width="1.20" height="2.80" fill="#222" />
<rect x="595.65" y="128.30" width="0.70" height="2.80" fill="#aaa" />
<rect x="630.80" y="128.30" width="0.80" height="2.80" fill="#666" />
<rect x="638.15" y="128.30" width="0.70" height="2.80" fill="#aaa" />
<rect x="645.30" y="128.30" width="1.00" height="2.80" fill="#222" />
<rect x="681.00" y="128.30" width="0.80" height="2.80" fill="#666" />
<rect x="108.40" y="131.60" width="0.80" height="2.40" fill="#666" />
<rect x="112.50" y="131.60" width="0.80" height="2.40" fill="#aaa" />
<rect x="113.30" y="131.60" width="0.80" height="2.40" fill="#666" />
<rect x="120.60" y="131.60" width="0.80" height="2.40" fill="#aaa" />
<rect x="382.60" y="131.60" width="0.80" height="2.40" fill="#666" />
<rect x="390.90" y="131.60" width="0.80" height="2.40" fill="#666" />
<rect x="436.60" y="131.60" width="1.20" height="2.40" fill="#222" />
<rect x="438.20" y="131.60" width="1.20" height="2.40" fill="#222" />
<rect x="470.15" y="131.60" width="0.70" height="2.40" fill="#aaa" />
<rect x="516.65" y="131.60" width="0.70" height="2.40" fill="#aaa" />
<path d="M85.95,168.0 L86.40,162.1 L86.85,168.0 Z" fill="#111"/>
<path d="M90.30,168.0 L90.70,165.8 L91.10,168.0 Z" fill="#111"/>
<path d="M93.90,168.0 L94.30,166 L94.70,168.0 Z" fill="#111"/>
<path d="M105.70,168.0 L107.30,161.9 L108.90,168.0 Z" fill="#111"/>
<path d="M112.30,168.0 L113.20,165.2 L114.10,168.0 Z" fill="#111"/>
<path d="M113.50,168.0 L114.40,165.2 L115.30,168.0 Z" fill="#111"/>
<path d="M115.40,168.0 L116.60,153.3 L117.80,168.0 Z" fill="#111"/>
<path d="M117.20,168.0 L118.20,158.8 L119.20,168.0 Z" fill="#111"/>
<path d="M117.90,168.0 L119.40,148.3 L120.90,168.0 Z" fill="#111"/>
<path d="M119.50,168.0 L120.50,160.1 L121.50,168.0 Z" fill="#111"/>
<path d="M160.30,168.0 L161.40,151.9 L162.50,168.0 Z" fill="#111"/>
<path d="M163.00,168.0 L163.50,166 L164.00,168.0 Z" fill="#111"/>
<path d="M203.80,168.0 L204.50,162.4 L205.20,168.0 Z" fill="#111"/>
<path d="M206.80,168.0 L207.50,162.4 L208.20,168.0 Z" fill="#111"/>
<path d="M209.70,168.0 L210.70,156.6 L211.70,168.0 Z" fill="#111"/>
<path d="M210.60,168.0 L211.90,146.1 L213.20,168.0 Z" fill="#111"/>
<path d="M229.40,168.0 L229.90,163.7 L230.40,168.0 Z" fill="#111"/>
<path d="M257.50,168.0 L258.00,162 L258.50,168.0 Z" fill="#111"/>
<path d="M277.60,168.0 L278.10,162 L278.60,168.0 Z" fill="#111"/>
<path d="M315.10,168.0 L315.70,161.9 L316.30,168.0 Z" fill="#111"/>
<path d="M434.10,168.0 L434.90,148 L435.70,168.0 Z" fill="#111"/>
<path d="M435.00,168.0 L435.90,144.4 L436.80,168.0 Z" fill="#111"/>
<path d="M436.00,168.0 L436.80,147 L437.60,168.0 Z" fill="#111"/>
<path d="M436.70,168.0 L437.70,143.2 L438.70,168.0 Z" fill="#111"/>
<path d="M437.90,168.0 L438.90,147 L439.90,168.0 Z" fill="#111"/>
<path d="M439.00,168.0 L439.80,152 L440.60,168.0 Z" fill="#111"/>
<path d="M472.70,168.0 L473.20,164.9 L473.70,168.0 Z" fill="#111"/>
<path d="M516.50,168.0 L517.00,160.1 L517.50,168.0 Z" fill="#111"/>
<path d="M518.60,168.0 L519.10,164 L519.60,168.0 Z" fill="#111"/>
<path d="M586.30,168.0 L586.70,163.7 L587.10,168.0 Z" fill="#111"/>
<path d="M595.00,168.0 L595.50,163.9 L596.00,168.0 Z" fill="#111"/>
<path d="M631.10,168.0 L631.60,163.6 L632.10,168.0 Z" fill="#111"/>
<path d="M684.00,168.0 L684.50,164 L685.00,168.0 Z" fill="#111"/>
<rect x="637.50" y="165.20" width="2.20" height="2.00" fill="#aaa" />
<line x1="86.00" y1="168.0" x2="123.30" y2="168.0" stroke="#151515" stroke-width="1.6" stroke-dasharray="3.5 0.3"/>
<line x1="126.00" y1="168.0" x2="128.50" y2="168.0" stroke="#151515" stroke-width="1.6" stroke-dasharray="3.5 0.3"/>
<line x1="130.50" y1="168.0" x2="132.50" y2="168.0" stroke="#151515" stroke-width="1.6" stroke-dasharray="3.5 0.3"/>
<line x1="134.00" y1="168.0" x2="136.00" y2="168.0" stroke="#151515" stroke-width="1.6" stroke-dasharray="3.5 0.3"/>
<line x1="137.00" y1="168.0" x2="138.00" y2="168.0" stroke="#151515" stroke-width="1.6" stroke-dasharray="3.5 0.3"/>
<line x1="139.00" y1="168.0" x2="156.50" y2="168.0" stroke="#151515" stroke-width="1.6" stroke-dasharray="3.5 0.3"/>
<line x1="157.00" y1="168.0" x2="170.50" y2="168.0" stroke="#151515" stroke-width="1.6" stroke-dasharray="3.5 0.3"/>
<line x1="171.50" y1="168.0" x2="172.50" y2="168.0" stroke="#151515" stroke-width="1.6" stroke-dasharray="3.5 0.3"/>
<line x1="173.50" y1="168.0" x2="199.00" y2="168.0" stroke="#151515" stroke-width="1.6" stroke-dasharray="3.5 0.3"/>
<line x1="202.20" y1="168.0" x2="240.00" y2="168.0" stroke="#151515" stroke-width="1.6" stroke-dasharray="3.5 0.3"/>
<line x1="240.80" y1="168.0" x2="272.00" y2="168.0" stroke="#151515" stroke-width="1.6" stroke-dasharray="3.5 0.3"/>
<line x1="276.00" y1="168.0" x2="292.00" y2="168.0" stroke="#151515" stroke-width="1.6" stroke-dasharray="3.5 0.3"/>
<line x1="305.00" y1="168.0" x2="318.50" y2="168.0" stroke="#151515" stroke-width="1.6" stroke-dasharray="3.5 0.3"/>
<line x1="323.50" y1="168.0" x2="343.00" y2="168.0" stroke="#151515" stroke-width="1.6" stroke-dasharray="3.5 0.3"/>
<line x1="343.80" y1="168.0" x2="347.00" y2="168.0" stroke="#151515" stroke-width="1.6" stroke-dasharray="3.5 0.3"/>
<line x1="352.50" y1="168.0" x2="366.50" y2="168.0" stroke="#151515" stroke-width="1.6" stroke-dasharray="3.5 0.3"/>
<line x1="370.00" y1="168.0" x2="389.00" y2="168.0" stroke="#151515" stroke-width="1.6" stroke-dasharray="3.5 0.3"/>
<line x1="389.80" y1="168.0" x2="393.00" y2="168.0" stroke="#151515" stroke-width="1.6" stroke-dasharray="3.5 0.3"/>
<line x1="394.00" y1="168.0" x2="397.50" y2="168.0" stroke="#151515" stroke-width="1.6" stroke-dasharray="3.5 0.3"/>
<line x1="399.00" y1="168.0" x2="405.50" y2="168.0" stroke="#151515" stroke-width="1.6" stroke-dasharray="3.5 0.3"/>
<line x1="409.50" y1="168.0" x2="413.00" y2="168.0" stroke="#151515" stroke-width="1.6" stroke-dasharray="3.5 0.3"/>
<line x1="414.50" y1="168.0" x2="423.50" y2="168.0" stroke="#151515" stroke-width="1.6" stroke-dasharray="3.5 0.3"/>
<line x1="425.00" y1="168.0" x2="427.00" y2="168.0" stroke="#151515" stroke-width="1.6" stroke-dasharray="3.5 0.3"/>
<line x1="429.00" y1="168.0" x2="431.00" y2="168.0" stroke="#151515" stroke-width="1.6" stroke-dasharray="3.5 0.3"/>
<line x1="431.50" y1="168.0" x2="476.00" y2="168.0" stroke="#151515" stroke-width="1.6" stroke-dasharray="3.5 0.3"/>
<line x1="479.00" y1="168.0" x2="484.50" y2="168.0" stroke="#151515" stroke-width="1.6" stroke-dasharray="3.5 0.3"/>
<line x1="487.50" y1="168.0" x2="583.00" y2="168.0" stroke="#151515" stroke-width="1.6" stroke-dasharray="3.5 0.3"/>
<line x1="583.50" y1="168.0" x2="584.30" y2="168.0" stroke="#151515" stroke-width="1.6" stroke-dasharray="3.5 0.3"/>
<line x1="586.50" y1="168.0" x2="608.00" y2="168.0" stroke="#151515" stroke-width="1.6" stroke-dasharray="3.5 0.3"/>
<line x1="609.50" y1="168.0" x2="617.00" y2="168.0" stroke="#151515" stroke-width="1.6" stroke-dasharray="3.5 0.3"/>
<line x1="618.00" y1="168.0" x2="647.50" y2="168.0" stroke="#151515" stroke-width="1.6" stroke-dasharray="3.5 0.3"/>
<line x1="648.50" y1="168.0" x2="652.50" y2="168.0" stroke="#151515" stroke-width="1.6" stroke-dasharray="3.5 0.3"/>
<line x1="653.50" y1="168.0" x2="662.50" y2="168.0" stroke="#151515" stroke-width="1.6" stroke-dasharray="3.5 0.3"/>
<line x1="664.00" y1="168.0" x2="685.00" y2="168.0" stroke="#151515" stroke-width="1.6" stroke-dasharray="3.5 0.3"/>
<rect x="125.20" y="167.00" width="0.70" height="3.60" fill="#e05aa8" />
<rect x="350.90" y="167.20" width="0.70" height="3.40" fill="#e05aa8" />
<text x="77.4" y="185.8" font-size="8.62" fill="#2a2a2a" text-anchor="start" font-weight="normal" font-style="normal" font-family="Liberation Sans" ><tspan font-style="italic">URI1</tspan> enhancer region</text>
<text x="169.7" y="185.8" font-size="8.55" fill="#2a2a2a" text-anchor="start" font-weight="normal" font-style="normal" font-family="Liberation Sans" ><tspan font-style="italic">URI1</tspan> CTCF repressor binding region</text>
<text x="404.6" y="185.8" font-size="8.72" fill="#2a2a2a" text-anchor="start" font-weight="normal" font-style="normal" font-family="Liberation Sans" ><tspan font-style="italic">URI1</tspan> promoter region</text>
<text x="5.1" y="205.6" font-size="14" fill="#111" text-anchor="start" font-weight="bold" font-style="normal" font-family="Liberation Sans" >b</text>
<text x="34" y="206.2" font-size="8.5" fill="#222" text-anchor="start" font-weight="normal" font-style="normal" font-family="Liberation Sans" ><tspan font-style="italic">URI1</tspan> promoter</text>
<text x="51.1" y="220.2" font-size="7.25" fill="#8eaadd" text-anchor="end" font-weight="normal" font-style="normal" font-family="Liberation Sans" >BRD4</text>
<rect x="55.60" y="214.30" width="74.70" height="6.60" fill="#7f9fd6" />
<line x1="53.00" y1="217.60" x2="55.60" y2="217.60" stroke="#555" stroke-width="0.7" />
<text x="51.1" y="228.01" font-size="7.25" fill="#8eaadd" text-anchor="end" font-weight="normal" font-style="normal" font-family="Liberation Sans" >CTCF</text>
<rect x="55.60" y="222.11" width="51.40" height="6.60" fill="#7f9fd6" />
<line x1="53.00" y1="225.41" x2="55.60" y2="225.41" stroke="#555" stroke-width="0.7" />
<text x="51.1" y="235.82" font-size="7.25" fill="#2b3a8c" text-anchor="end" font-weight="normal" font-style="normal" font-family="Liberation Sans" >MYC</text>
<rect x="55.60" y="229.92" width="47.00" height="6.60" fill="#213a96" />
<line x1="53.00" y1="233.22" x2="55.60" y2="233.22" stroke="#555" stroke-width="0.7" />
<text x="51.1" y="243.63" font-size="7.25" fill="#8eaadd" text-anchor="end" font-weight="normal" font-style="normal" font-family="Liberation Sans" >BRD2</text>
<rect x="55.60" y="237.73" width="17.40" height="6.60" fill="#7f9fd6" />
<line x1="53.00" y1="241.03" x2="55.60" y2="241.03" stroke="#555" stroke-width="0.7" />
<text x="51.1" y="251.44" font-size="7.25" fill="#8eaadd" text-anchor="end" font-weight="normal" font-style="normal" font-family="Liberation Sans" >SMARCA4</text>
<rect x="55.60" y="245.54" width="13.90" height="6.60" fill="#7f9fd6" />
<line x1="53.00" y1="248.84" x2="55.60" y2="248.84" stroke="#555" stroke-width="0.7" />
<text x="51.1" y="259.25" font-size="7.25" fill="#8b4a9c" text-anchor="end" font-weight="normal" font-style="normal" font-family="Liberation Sans" >MAX</text>
<rect x="55.60" y="253.35" width="14.20" height="6.60" fill="#7e3a96" />
<line x1="53.00" y1="256.65" x2="55.60" y2="256.65" stroke="#555" stroke-width="0.7" />
<text x="51.1" y="267.06" font-size="7.25" fill="#1f6fb8" text-anchor="end" font-weight="normal" font-style="normal" font-family="Liberation Sans" >MYCN</text>
<rect x="55.60" y="261.16" width="13.50" height="6.60" fill="#0c6bb8" />
<line x1="53.00" y1="264.46" x2="55.60" y2="264.46" stroke="#555" stroke-width="0.7" />
<text x="51.1" y="274.87" font-size="7.25" fill="#8eaadd" text-anchor="end" font-weight="normal" font-style="normal" font-family="Liberation Sans" >MED1</text>
<rect x="55.60" y="268.97" width="13.50" height="6.60" fill="#7f9fd6" />
<line x1="53.00" y1="272.27" x2="55.60" y2="272.27" stroke="#555" stroke-width="0.7" />
<text x="51.1" y="282.68" font-size="7.25" fill="#8eaadd" text-anchor="end" font-weight="normal" font-style="normal" font-family="Liberation Sans" >ESR1</text>
<rect x="55.60" y="276.78" width="12.30" height="6.60" fill="#7f9fd6" />
<line x1="53.00" y1="280.08" x2="55.60" y2="280.08" stroke="#555" stroke-width="0.7" />
<text x="51.1" y="290.49" font-size="7.25" fill="#8eaadd" text-anchor="end" font-weight="normal" font-style="normal" font-family="Liberation Sans" >ERG</text>
<rect x="55.60" y="284.59" width="12.30" height="6.60" fill="#7f9fd6" />
<line x1="53.00" y1="287.89" x2="55.60" y2="287.89" stroke="#555" stroke-width="0.7" />
<text x="51.1" y="298.3" font-size="7.25" fill="#8eaadd" text-anchor="end" font-weight="normal" font-style="normal" font-family="Liberation Sans" >KMT2A</text>
<rect x="55.60" y="292.40" width="12.00" height="6.60" fill="#7f9fd6" />
<line x1="53.00" y1="295.70" x2="55.60" y2="295.70" stroke="#555" stroke-width="0.7" />
<text x="51.1" y="306.11" font-size="7.25" fill="#8eaadd" text-anchor="end" font-weight="normal" font-style="normal" font-family="Liberation Sans" >ETS1</text>
<rect x="55.60" y="300.21" width="10.80" height="6.60" fill="#7f9fd6" />
<line x1="53.00" y1="303.51" x2="55.60" y2="303.51" stroke="#555" stroke-width="0.7" />
<text x="51.1" y="313.92" font-size="7.25" fill="#8eaadd" text-anchor="end" font-weight="normal" font-style="normal" font-family="Liberation Sans" >NRF1</text>
<rect x="55.60" y="308.02" width="10.30" height="6.60" fill="#7f9fd6" />
<line x1="53.00" y1="311.32" x2="55.60" y2="311.32" stroke="#555" stroke-width="0.7" />
<text x="51.1" y="321.73" font-size="7.25" fill="#8eaadd" text-anchor="end" font-weight="normal" font-style="normal" font-family="Liberation Sans" >AR</text>
<rect x="55.60" y="315.83" width="10.00" height="6.60" fill="#7f9fd6" />
<line x1="53.00" y1="319.13" x2="55.60" y2="319.13" stroke="#555" stroke-width="0.7" />
<text x="51.1" y="329.54" font-size="7.25" fill="#8eaadd" text-anchor="end" font-weight="normal" font-style="normal" font-family="Liberation Sans" >YY1</text>
<rect x="55.60" y="323.64" width="9.80" height="6.60" fill="#7f9fd6" />
<line x1="53.00" y1="326.94" x2="55.60" y2="326.94" stroke="#555" stroke-width="0.7" />
<text x="51.1" y="337.35" font-size="7.25" fill="#8eaadd" text-anchor="end" font-weight="normal" font-style="normal" font-family="Liberation Sans" >RAD21</text>
<rect x="55.60" y="331.45" width="9.80" height="6.60" fill="#7f9fd6" />
<line x1="53.00" y1="334.75" x2="55.60" y2="334.75" stroke="#555" stroke-width="0.7" />
<text x="51.1" y="345.16" font-size="7.25" fill="#8eaadd" text-anchor="end" font-weight="normal" font-style="normal" font-family="Liberation Sans" >RUNX1</text>
<rect x="55.60" y="339.26" width="9.40" height="6.60" fill="#7f9fd6" />
<line x1="53.00" y1="342.56" x2="55.60" y2="342.56" stroke="#555" stroke-width="0.7" />
<text x="51.1" y="352.97" font-size="7.25" fill="#8eaadd" text-anchor="end" font-weight="normal" font-style="normal" font-family="Liberation Sans" >SUPT5H</text>
<rect x="55.60" y="347.07" width="8.40" height="6.60" fill="#7f9fd6" />
<line x1="53.00" y1="350.37" x2="55.60" y2="350.37" stroke="#555" stroke-width="0.7" />
<text x="51.1" y="360.78" font-size="7.25" fill="#8eaadd" text-anchor="end" font-weight="normal" font-style="normal" font-family="Liberation Sans" >SIN3A</text>
<rect x="55.60" y="354.88" width="8.40" height="6.60" fill="#7f9fd6" />
<line x1="53.00" y1="358.18" x2="55.60" y2="358.18" stroke="#555" stroke-width="0.7" />
<text x="51.1" y="368.59000000000003" font-size="7.25" fill="#8eaadd" text-anchor="end" font-weight="normal" font-style="normal" font-family="Liberation Sans" >STAT3</text>
<rect x="55.60" y="362.69" width="8.40" height="6.60" fill="#7f9fd6" />
<line x1="53.00" y1="365.99" x2="55.60" y2="365.99" stroke="#555" stroke-width="0.7" />
<line x1="55.60" y1="213.50" x2="55.60" y2="370.30" stroke="#333" stroke-width="0.8" />
<line x1="55.60" y1="370.30" x2="130.10" y2="370.30" stroke="#333" stroke-width="0.8" />
<line x1="55.60" y1="370.30" x2="55.60" y2="372.60" stroke="#555" stroke-width="0.7" />
<text x="55.6" y="379.6" font-size="6.9" fill="#666" text-anchor="middle" font-weight="normal" font-style="normal" font-family="Liberation Sans" >0</text>
<line x1="70.65" y1="370.30" x2="70.65" y2="372.60" stroke="#555" stroke-width="0.7" />
<text x="70.65" y="379.6" font-size="6.9" fill="#666" text-anchor="middle" font-weight="normal" font-style="normal" font-family="Liberation Sans" >50</text>
<line x1="85.70" y1="370.30" x2="85.70" y2="372.60" stroke="#555" stroke-width="0.7" />
<text x="85.7" y="379.6" font-size="6.9" fill="#666" text-anchor="middle" font-weight="normal" font-style="normal" font-family="Liberation Sans" >100</text>
<line x1="100.75" y1="370.30" x2="100.75" y2="372.60" stroke="#555" stroke-width="0.7" />
<text x="100.75" y="379.6" font-size="6.9" fill="#666" text-anchor="middle" font-weight="normal" font-style="normal" font-family="Liberation Sans" >150</text>
<line x1="115.80" y1="370.30" x2="115.80" y2="372.60" stroke="#555" stroke-width="0.7" />
<text x="115.8" y="379.6" font-size="6.9" fill="#666" text-anchor="middle" font-weight="normal" font-style="normal" font-family="Liberation Sans" >200</text>
<text x="141.4" y="206.2" font-size="8.5" fill="#222" text-anchor="start" font-weight="normal" font-style="normal" font-family="Liberation Sans" ><tspan font-style="italic">URI1</tspan> CTCF-binding site</text>
<text x="157.1" y="220.2" font-size="7.25" fill="#8eaadd" text-anchor="end" font-weight="normal" font-style="normal" font-family="Liberation Sans" >CTCF</text>
<rect x="161.60" y="214.30" width="74.30" height="6.60" fill="#7f9fd6" />
<line x1="159.00" y1="217.60" x2="161.60" y2="217.60" stroke="#555" stroke-width="0.7" />
<text x="157.1" y="228.01" font-size="7.25" fill="#8eaadd" text-anchor="end" font-weight="normal" font-style="normal" font-family="Liberation Sans" >RAD21</text>
<rect x="161.60" y="222.11" width="12.30" height="6.60" fill="#7f9fd6" />
<line x1="159.00" y1="225.41" x2="161.60" y2="225.41" stroke="#555" stroke-width="0.7" />
<text x="157.1" y="235.82" font-size="7.25" fill="#8eaadd" text-anchor="end" font-weight="normal" font-style="normal" font-family="Liberation Sans" >ESR1</text>
<rect x="161.60" y="229.92" width="7.10" height="6.60" fill="#7f9fd6" />
<line x1="159.00" y1="233.22" x2="161.60" y2="233.22" stroke="#555" stroke-width="0.7" />
<text x="157.1" y="243.63" font-size="7.25" fill="#8eaadd" text-anchor="end" font-weight="normal" font-style="normal" font-family="Liberation Sans" >BRD4</text>
<rect x="161.60" y="237.73" width="6.00" height="6.60" fill="#7f9fd6" />
<line x1="159.00" y1="241.03" x2="161.60" y2="241.03" stroke="#555" stroke-width="0.7" />
<text x="157.1" y="251.44" font-size="7.25" fill="#8eaadd" text-anchor="end" font-weight="normal" font-style="normal" font-family="Liberation Sans" >EZH2</text>
<rect x="161.60" y="245.54" width="3.60" height="6.60" fill="#7f9fd6" />
<line x1="159.00" y1="248.84" x2="161.60" y2="248.84" stroke="#555" stroke-width="0.7" />
<text x="157.1" y="259.25" font-size="7.25" fill="#8eaadd" text-anchor="end" font-weight="normal" font-style="normal" font-family="Liberation Sans" >SMARCA4</text>
<rect x="161.60" y="253.35" width="3.10" height="6.60" fill="#7f9fd6" />
<line x1="159.00" y1="256.65" x2="161.60" y2="256.65" stroke="#555" stroke-width="0.7" />
<text x="157.1" y="267.06" font-size="7.25" fill="#8eaadd" text-anchor="end" font-weight="normal" font-style="normal" font-family="Liberation Sans" >BRD2</text>
<rect x="161.60" y="261.16" width="3.10" height="6.60" fill="#7f9fd6" />
<line x1="159.00" y1="264.46" x2="161.60" y2="264.46" stroke="#555" stroke-width="0.7" />
<text x="157.1" y="274.87" font-size="7.25" fill="#8eaadd" text-anchor="end" font-weight="normal" font-style="normal" font-family="Liberation Sans" >AR</text>
<rect x="161.60" y="268.97" width="2.20" height="6.60" fill="#7f9fd6" />
<line x1="159.00" y1="272.27" x2="161.60" y2="272.27" stroke="#555" stroke-width="0.7" />
<text x="157.1" y="282.68" font-size="7.25" fill="#8b4a9c" text-anchor="end" font-weight="normal" font-style="normal" font-family="Liberation Sans" >MAX</text>
<rect x="161.60" y="276.78" width="2.20" height="6.60" fill="#7e3a96" />
<line x1="159.00" y1="280.08" x2="161.60" y2="280.08" stroke="#555" stroke-width="0.7" />
<text x="157.1" y="290.49" font-size="7.25" fill="#8eaadd" text-anchor="end" font-weight="normal" font-style="normal" font-family="Liberation Sans" >KDM1A</text>
<rect x="161.60" y="284.59" width="2.00" height="6.60" fill="#7f9fd6" />
<line x1="159.00" y1="287.89" x2="161.60" y2="287.89" stroke="#555" stroke-width="0.7" />
<text x="157.1" y="298.3" font-size="7.25" fill="#8eaadd" text-anchor="end" font-weight="normal" font-style="normal" font-family="Liberation Sans" >STAG1</text>
<rect x="161.60" y="292.40" width="1.80" height="6.60" fill="#7f9fd6" />
<line x1="159.00" y1="295.70" x2="161.60" y2="295.70" stroke="#555" stroke-width="0.7" />
<text x="157.1" y="306.11" font-size="7.25" fill="#8eaadd" text-anchor="end" font-weight="normal" font-style="normal" font-family="Liberation Sans" >SMC3</text>
<rect x="161.60" y="300.21" width="1.80" height="6.60" fill="#7f9fd6" />
<line x1="159.00" y1="303.51" x2="161.60" y2="303.51" stroke="#555" stroke-width="0.7" />
<text x="157.1" y="313.92" font-size="7.25" fill="#8eaadd" text-anchor="end" font-weight="normal" font-style="normal" font-family="Liberation Sans" >SMC1</text>
<rect x="161.60" y="308.02" width="1.80" height="6.60" fill="#7f9fd6" />
<line x1="159.00" y1="311.32" x2="161.60" y2="311.32" stroke="#555" stroke-width="0.7" />
<text x="157.1" y="321.73" font-size="7.25" fill="#2b3a8c" text-anchor="end" font-weight="normal" font-style="normal" font-family="Liberation Sans" >MYC</text>
<rect x="161.60" y="315.83" width="1.60" height="6.60" fill="#213a96" />
<line x1="159.00" y1="319.13" x2="161.60" y2="319.13" stroke="#555" stroke-width="0.7" />
<text x="157.1" y="329.54" font-size="7.25" fill="#8eaadd" text-anchor="end" font-weight="normal" font-style="normal" font-family="Liberation Sans" >YY1</text>
<rect x="161.60" y="323.64" width="1.20" height="6.60" fill="#7f9fd6" />
<line x1="159.00" y1="326.94" x2="161.60" y2="326.94" stroke="#555" stroke-width="0.7" />
<text x="157.1" y="337.35" font-size="7.25" fill="#8eaadd" text-anchor="end" font-weight="normal" font-style="normal" font-family="Liberation Sans" >SUZ12</text>
<rect x="161.60" y="331.45" width="1.20" height="6.60" fill="#7f9fd6" />
<line x1="159.00" y1="334.75" x2="161.60" y2="334.75" stroke="#555" stroke-width="0.7" />
<text x="157.1" y="345.16" font-size="7.25" fill="#8eaadd" text-anchor="end" font-weight="normal" font-style="normal" font-family="Liberation Sans" >SMC1A</text>
<rect x="161.60" y="339.26" width="1.00" height="6.60" fill="#7f9fd6" />
<line x1="159.00" y1="342.56" x2="161.60" y2="342.56" stroke="#555" stroke-width="0.7" />
<text x="157.1" y="352.97" font-size="7.25" fill="#8eaadd" text-anchor="end" font-weight="normal" font-style="normal" font-family="Liberation Sans" >SMARCC1</text>
<rect x="161.60" y="347.07" width="0.90" height="6.60" fill="#7f9fd6" />
<line x1="159.00" y1="350.37" x2="161.60" y2="350.37" stroke="#555" stroke-width="0.7" />
<text x="157.1" y="360.78" font-size="7.25" fill="#1f6fb8" text-anchor="end" font-weight="normal" font-style="normal" font-family="Liberation Sans" >MYCN</text>
<rect x="161.60" y="354.88" width="1.20" height="6.60" fill="#0c6bb8" />
<line x1="159.00" y1="358.18" x2="161.60" y2="358.18" stroke="#555" stroke-width="0.7" />
<text x="157.1" y="368.59000000000003" font-size="7.25" fill="#8eaadd" text-anchor="end" font-weight="normal" font-style="normal" font-family="Liberation Sans" >RUNX1</text>
<rect x="161.60" y="362.69" width="1.00" height="6.60" fill="#7f9fd6" />
<line x1="159.00" y1="365.99" x2="161.60" y2="365.99" stroke="#555" stroke-width="0.7" />
<line x1="161.60" y1="213.50" x2="161.60" y2="370.30" stroke="#333" stroke-width="0.8" />
<line x1="161.60" y1="370.30" x2="236.00" y2="370.30" stroke="#333" stroke-width="0.8" />
<line x1="161.60" y1="370.30" x2="161.60" y2="372.60" stroke="#555" stroke-width="0.7" />
<text x="161.6" y="379.6" font-size="6.9" fill="#666" text-anchor="middle" font-weight="normal" font-style="normal" font-family="Liberation Sans" >0</text>
<line x1="183.70" y1="370.30" x2="183.70" y2="372.60" stroke="#555" stroke-width="0.7" />
<text x="183.7" y="379.6" font-size="6.9" fill="#666" text-anchor="middle" font-weight="normal" font-style="normal" font-family="Liberation Sans" >200</text>
<line x1="205.80" y1="370.30" x2="205.80" y2="372.60" stroke="#555" stroke-width="0.7" />
<text x="205.8" y="379.6" font-size="6.9" fill="#666" text-anchor="middle" font-weight="normal" font-style="normal" font-family="Liberation Sans" >400</text>
<line x1="227.90" y1="370.30" x2="227.90" y2="372.60" stroke="#555" stroke-width="0.7" />
<text x="227.89999999999998" y="379.6" font-size="6.9" fill="#666" text-anchor="middle" font-weight="normal" font-style="normal" font-family="Liberation Sans" >600</text>
<text x="267.3" y="206.2" font-size="8.5" fill="#222" text-anchor="start" font-weight="normal" font-style="normal" font-family="Liberation Sans" ><tspan font-style="italic">URI1</tspan> enhancer</text>
<text x="266.0" y="220.2" font-size="7.25" fill="#8eaadd" text-anchor="end" font-weight="normal" font-style="normal" font-family="Liberation Sans" >BRD4</text>
<rect x="270.50" y="214.30" width="75.10" height="6.60" fill="#7f9fd6" />
<line x1="267.90" y1="217.60" x2="270.50" y2="217.60" stroke="#555" stroke-width="0.7" />
<text x="266.0" y="228.01" font-size="7.25" fill="#8eaadd" text-anchor="end" font-weight="normal" font-style="normal" font-family="Liberation Sans" >CTCF</text>
<rect x="270.50" y="222.11" width="57.20" height="6.60" fill="#7f9fd6" />
<line x1="267.90" y1="225.41" x2="270.50" y2="225.41" stroke="#555" stroke-width="0.7" />
<text x="266.0" y="235.82" font-size="7.25" fill="#2b3a8c" text-anchor="end" font-weight="normal" font-style="normal" font-family="Liberation Sans" >MYC</text>
<rect x="270.50" y="229.92" width="48.50" height="6.60" fill="#213a96" />
<line x1="267.90" y1="233.22" x2="270.50" y2="233.22" stroke="#555" stroke-width="0.7" />
<text x="266.0" y="243.63" font-size="7.25" fill="#8eaadd" text-anchor="end" font-weight="normal" font-style="normal" font-family="Liberation Sans" >ESR1</text>
<rect x="270.50" y="237.73" width="42.20" height="6.60" fill="#7f9fd6" />
<line x1="267.90" y1="241.03" x2="270.50" y2="241.03" stroke="#555" stroke-width="0.7" />
<text x="266.0" y="251.44" font-size="7.25" fill="#8eaadd" text-anchor="end" font-weight="normal" font-style="normal" font-family="Liberation Sans" >FOXA1</text>
<rect x="270.50" y="245.54" width="34.50" height="6.60" fill="#7f9fd6" />
<line x1="267.90" y1="248.84" x2="270.50" y2="248.84" stroke="#555" stroke-width="0.7" />
<text x="266.0" y="259.25" font-size="7.25" fill="#8b4a9c" text-anchor="end" font-weight="normal" font-style="normal" font-family="Liberation Sans" >MAX</text>
<rect x="270.50" y="253.35" width="26.40" height="6.60" fill="#7e3a96" />
<line x1="267.90" y1="256.65" x2="270.50" y2="256.65" stroke="#555" stroke-width="0.7" />
<text x="266.0" y="267.06" font-size="7.25" fill="#8eaadd" text-anchor="end" font-weight="normal" font-style="normal" font-family="Liberation Sans" >SMARCA4</text>
<rect x="270.50" y="261.16" width="25.70" height="6.60" fill="#7f9fd6" />
<line x1="267.90" y1="264.46" x2="270.50" y2="264.46" stroke="#555" stroke-width="0.7" />
<text x="266.0" y="274.87" font-size="7.25" fill="#8eaadd" text-anchor="end" font-weight="normal" font-style="normal" font-family="Liberation Sans" >BRD2</text>
<rect x="270.50" y="268.97" width="24.60" height="6.60" fill="#7f9fd6" />
<line x1="267.90" y1="272.27" x2="270.50" y2="272.27" stroke="#555" stroke-width="0.7" />
<text x="266.0" y="282.68" font-size="7.25" fill="#8eaadd" text-anchor="end" font-weight="normal" font-style="normal" font-family="Liberation Sans" >SIN3A</text>
<rect x="270.50" y="276.78" width="22.20" height="6.60" fill="#7f9fd6" />
<line x1="267.90" y1="280.08" x2="270.50" y2="280.08" stroke="#555" stroke-width="0.7" />
<text x="266.0" y="290.49" font-size="7.25" fill="#8eaadd" text-anchor="end" font-weight="normal" font-style="normal" font-family="Liberation Sans" >ERG</text>
<rect x="270.50" y="284.59" width="21.10" height="6.60" fill="#7f9fd6" />
<line x1="267.90" y1="287.89" x2="270.50" y2="287.89" stroke="#555" stroke-width="0.7" />
<text x="266.0" y="298.3" font-size="7.25" fill="#8eaadd" text-anchor="end" font-weight="normal" font-style="normal" font-family="Liberation Sans" >AR</text>
<rect x="270.50" y="292.40" width="21.10" height="6.60" fill="#7f9fd6" />
<line x1="267.90" y1="295.70" x2="270.50" y2="295.70" stroke="#555" stroke-width="0.7" />
<text x="266.0" y="306.11" font-size="7.25" fill="#1f6fb8" text-anchor="end" font-weight="normal" font-style="normal" font-family="Liberation Sans" >MYCN</text>
<rect x="270.50" y="300.21" width="19.70" height="6.60" fill="#0c6bb8" />
<line x1="267.90" y1="303.51" x2="270.50" y2="303.51" stroke="#555" stroke-width="0.7" />
<text x="266.0" y="313.92" font-size="7.25" fill="#8eaadd" text-anchor="end" font-weight="normal" font-style="normal" font-family="Liberation Sans" >ELF1</text>
<rect x="270.50" y="308.02" width="16.20" height="6.60" fill="#7f9fd6" />
<line x1="267.90" y1="311.32" x2="270.50" y2="311.32" stroke="#555" stroke-width="0.7" />
<text x="266.0" y="321.73" font-size="7.25" fill="#8eaadd" text-anchor="end" font-weight="normal" font-style="normal" font-family="Liberation Sans" >MED1</text>
<rect x="270.50" y="315.83" width="15.70" height="6.60" fill="#7f9fd6" />
<line x1="267.90" y1="319.13" x2="270.50" y2="319.13" stroke="#555" stroke-width="0.7" />
<text x="266.0" y="329.54" font-size="7.25" fill="#8eaadd" text-anchor="end" font-weight="normal" font-style="normal" font-family="Liberation Sans" >RUNX1</text>
<rect x="270.50" y="323.64" width="15.10" height="6.60" fill="#7f9fd6" />
<line x1="267.90" y1="326.94" x2="270.50" y2="326.94" stroke="#555" stroke-width="0.7" />
<text x="266.0" y="337.35" font-size="7.25" fill="#8eaadd" text-anchor="end" font-weight="normal" font-style="normal" font-family="Liberation Sans" >ZNF143</text>
<rect x="270.50" y="331.45" width="14.40" height="6.60" fill="#7f9fd6" />
<line x1="267.90" y1="334.75" x2="270.50" y2="334.75" stroke="#555" stroke-width="0.7" />
<text x="266.0" y="345.16" font-size="7.25" fill="#8eaadd" text-anchor="end" font-weight="normal" font-style="normal" font-family="Liberation Sans" >RAD21</text>
<rect x="270.50" y="339.26" width="13.50" height="6.60" fill="#7f9fd6" />
<line x1="267.90" y1="342.56" x2="270.50" y2="342.56" stroke="#555" stroke-width="0.7" />
<text x="266.0" y="352.97" font-size="7.25" fill="#8eaadd" text-anchor="end" font-weight="normal" font-style="normal" font-family="Liberation Sans" >CREB1</text>
<rect x="270.50" y="347.07" width="13.50" height="6.60" fill="#7f9fd6" />
<line x1="267.90" y1="350.37" x2="270.50" y2="350.37" stroke="#555" stroke-width="0.7" />
<text x="266.0" y="360.78" font-size="7.25" fill="#8eaadd" text-anchor="end" font-weight="normal" font-style="normal" font-family="Liberation Sans" >STAT3</text>
<rect x="270.50" y="354.88" width="13.10" height="6.60" fill="#7f9fd6" />
<line x1="267.90" y1="358.18" x2="270.50" y2="358.18" stroke="#555" stroke-width="0.7" />
<text x="266.0" y="368.59000000000003" font-size="7.25" fill="#8eaadd" text-anchor="end" font-weight="normal" font-style="normal" font-family="Liberation Sans" >SUPT5H</text>
<rect x="270.50" y="362.69" width="12.40" height="6.60" fill="#7f9fd6" />
<line x1="267.90" y1="365.99" x2="270.50" y2="365.99" stroke="#555" stroke-width="0.7" />
<line x1="270.50" y1="213.50" x2="270.50" y2="370.30" stroke="#333" stroke-width="0.8" />
<line x1="270.50" y1="370.30" x2="345.30" y2="370.30" stroke="#333" stroke-width="0.8" />
<line x1="270.50" y1="370.30" x2="270.50" y2="372.60" stroke="#555" stroke-width="0.7" />
<text x="270.5" y="379.6" font-size="6.9" fill="#666" text-anchor="middle" font-weight="normal" font-style="normal" font-family="Liberation Sans" >0</text>
<line x1="297.95" y1="370.30" x2="297.95" y2="372.60" stroke="#555" stroke-width="0.7" />
<text x="297.95" y="379.6" font-size="6.9" fill="#666" text-anchor="middle" font-weight="normal" font-style="normal" font-family="Liberation Sans" >50</text>
<line x1="325.40" y1="370.30" x2="325.40" y2="372.60" stroke="#555" stroke-width="0.7" />
<text x="325.4" y="379.6" font-size="6.9" fill="#666" text-anchor="middle" font-weight="normal" font-style="normal" font-family="Liberation Sans" >100</text>
<text transform="translate(12.8,291.4) rotate(-90)" font-size="8.5" fill="#222" text-anchor="middle" font-family="Liberation Sans">Top 20 transcription factors</text>
<text x="197.5" y="389.3" font-size="8.4" fill="#222" text-anchor="middle" font-weight="normal" font-style="normal" font-family="Liberation Sans" >Number of ChIP-seq experiments</text>
<text x="355.5" y="205.6" font-size="14" fill="#111" text-anchor="start" font-weight="bold" font-style="normal" font-family="Liberation Sans" >c</text>
<text x="348" y="235.6" font-size="7.3" fill="#333" text-anchor="start" font-weight="normal" font-style="normal" font-family="Liberation Sans" >GENCODE V44</text>
<text x="349.2" y="281.3" font-size="7.3" fill="#333" text-anchor="start" font-weight="normal" font-style="normal" font-family="Liberation Sans" >H3K4Me3 Mark</text>
<text x="566.6" y="233.9" font-size="7.3" fill="#3b45a3" font-style="italic" text-anchor="end" font-family="Liberation Sans">URI1</text>
<line x1="567.60" y1="231.40" x2="680.50" y2="231.40" stroke="#4a54ac" stroke-width="0.9" />
<line x1="538.60" y1="236.20" x2="680.00" y2="236.20" stroke="#4a54ac" stroke-width="0.9" />
<path d="M569.10,230.40 L570.80,231.40 L569.10,232.40 Z" fill="#2f3a9c"/>
<path d="M571.60,230.40 L573.30,231.40 L571.60,232.40 Z" fill="#2f3a9c"/>
<path d="M574.10,230.40 L575.80,231.40 L574.10,232.40 Z" fill="#2f3a9c"/>
<path d="M576.60,230.40 L578.30,231.40 L576.60,232.40 Z" fill="#2f3a9c"/>
<path d="M579.10,230.40 L580.80,231.40 L579.10,232.40 Z" fill="#2f3a9c"/>
<path d="M581.60,230.40 L583.30,231.40 L581.60,232.40 Z" fill="#2f3a9c"/>
<path d="M584.10,230.40 L585.80,231.40 L584.10,232.40 Z" fill="#2f3a9c"/>
<path d="M586.60,230.40 L588.30,231.40 L586.60,232.40 Z" fill="#2f3a9c"/>
<path d="M589.10,230.40 L590.80,231.40 L589.10,232.40 Z" fill="#2f3a9c"/>
<path d="M591.60,230.40 L593.30,231.40 L591.60,232.40 Z" fill="#2f3a9c"/>
<path d="M594.10,230.40 L595.80,231.40 L594.10,232.40 Z" fill="#2f3a9c"/>
<path d="M596.60,230.40 L598.30,231.40 L596.60,232.40 Z" fill="#2f3a9c"/>
<path d="M599.10,230.40 L600.80,231.40 L599.10,232.40 Z" fill="#2f3a9c"/>
<path d="M601.60,230.40 L603.30,231.40 L601.60,232.40 Z" fill="#2f3a9c"/>
<path d="M604.10,230.40 L605.80,231.40 L604.10,232.40 Z" fill="#2f3a9c"/>
<path d="M606.60,230.40 L608.30,231.40 L606.60,232.40 Z" fill="#2f3a9c"/>
<path d="M609.10,230.40 L610.80,231.40 L609.10,232.40 Z" fill="#2f3a9c"/>
<path d="M611.60,230.40 L613.30,231.40 L611.60,232.40 Z" fill="#2f3a9c"/>
<path d="M614.10,230.40 L615.80,231.40 L614.10,232.40 Z" fill="#2f3a9c"/>
<path d="M616.60,230.40 L618.30,231.40 L616.60,232.40 Z" fill="#2f3a9c"/>
<path d="M619.10,230.40 L620.80,231.40 L619.10,232.40 Z" fill="#2f3a9c"/>
<path d="M621.60,230.40 L623.30,231.40 L621.60,232.40 Z" fill="#2f3a9c"/>
<path d="M624.10,230.40 L625.80,231.40 L624.10,232.40 Z" fill="#2f3a9c"/>
<path d="M626.60,230.40 L628.30,231.40 L626.60,232.40 Z" fill="#2f3a9c"/>
<path d="M629.10,230.40 L630.80,231.40 L629.10,232.40 Z" fill="#2f3a9c"/>
<path d="M631.60,230.40 L633.30,231.40 L631.60,232.40 Z" fill="#2f3a9c"/>
<path d="M634.10,230.40 L635.80,231.40 L634.10,232.40 Z" fill="#2f3a9c"/>
<path d="M636.60,230.40 L638.30,231.40 L636.60,232.40 Z" fill="#2f3a9c"/>
<path d="M639.10,230.40 L640.80,231.40 L639.10,232.40 Z" fill="#2f3a9c"/>
<path d="M641.60,230.40 L643.30,231.40 L641.60,232.40 Z" fill="#2f3a9c"/>
<path d="M644.10,230.40 L645.80,231.40 L644.10,232.40 Z" fill="#2f3a9c"/>
<path d="M646.60,230.40 L648.30,231.40 L646.60,232.40 Z" fill="#2f3a9c"/>
<path d="M649.10,230.40 L650.80,231.40 L649.10,232.40 Z" fill="#2f3a9c"/>
<path d="M651.60,230.40 L653.30,231.40 L651.60,232.40 Z" fill="#2f3a9c"/>
<path d="M654.10,230.40 L655.80,231.40 L654.10,232.40 Z" fill="#2f3a9c"/>
<path d="M656.60,230.40 L658.30,231.40 L656.60,232.40 Z" fill="#2f3a9c"/>
<path d="M659.10,230.40 L660.80,231.40 L659.10,232.40 Z" fill="#2f3a9c"/>
<path d="M661.60,230.40 L663.30,231.40 L661.60,232.40 Z" fill="#2f3a9c"/>
<path d="M664.10,230.40 L665.80,231.40 L664.10,232.40 Z" fill="#2f3a9c"/>
<path d="M666.60,230.40 L668.30,231.40 L666.60,232.40 Z" fill="#2f3a9c"/>
<path d="M669.10,230.40 L670.80,231.40 L669.10,232.40 Z" fill="#2f3a9c"/>
<path d="M671.60,230.40 L673.30,231.40 L671.60,232.40 Z" fill="#2f3a9c"/>
<path d="M674.10,230.40 L675.80,231.40 L674.10,232.40 Z" fill="#2f3a9c"/>
<path d="M676.60,230.40 L678.30,231.40 L676.60,232.40 Z" fill="#2f3a9c"/>
<path d="M539.10,235.20 L540.80,236.20 L539.10,237.20 Z" fill="#2f3a9c"/>
<path d="M541.60,235.20 L543.30,236.20 L541.60,237.20 Z" fill="#2f3a9c"/>
<path d="M544.10,235.20 L545.80,236.20 L544.10,237.20 Z" fill="#2f3a9c"/>
<path d="M546.60,235.20 L548.30,236.20 L546.60,237.20 Z" fill="#2f3a9c"/>
<path d="M549.10,235.20 L550.80,236.20 L549.10,237.20 Z" fill="#2f3a9c"/>
<path d="M551.60,235.20 L553.30,236.20 L551.60,237.20 Z" fill="#2f3a9c"/>
<path d="M554.10,235.20 L555.80,236.20 L554.10,237.20 Z" fill="#2f3a9c"/>
<path d="M556.60,235.20 L558.30,236.20 L556.60,237.20 Z" fill="#2f3a9c"/>
<path d="M559.10,235.20 L560.80,236.20 L559.10,237.20 Z" fill="#2f3a9c"/>
<path d="M561.60,235.20 L563.30,236.20 L561.60,237.20 Z" fill="#2f3a9c"/>
<path d="M564.10,235.20 L565.80,236.20 L564.10,237.20 Z" fill="#2f3a9c"/>
<path d="M566.60,235.20 L568.30,236.20 L566.60,237.20 Z" fill="#2f3a9c"/>
<path d="M569.10,235.20 L570.80,236.20 L569.10,237.20 Z" fill="#2f3a9c"/>
<path d="M571.60,235.20 L573.30,236.20 L571.60,237.20 Z" fill="#2f3a9c"/>
<path d="M574.10,235.20 L575.80,236.20 L574.10,237.20 Z" fill="#2f3a9c"/>
<path d="M576.60,235.20 L578.30,236.20 L576.60,237.20 Z" fill="#2f3a9c"/>
<path d="M579.10,235.20 L580.80,236.20 L579.10,237.20 Z" fill="#2f3a9c"/>
<path d="M581.60,235.20 L583.30,236.20 L581.60,237.20 Z" fill="#2f3a9c"/>
<path d="M584.10,235.20 L585.80,236.20 L584.10,237.20 Z" fill="#2f3a9c"/>
<path d="M586.60,235.20 L588.30,236.20 L586.60,237.20 Z" fill="#2f3a9c"/>
<path d="M589.10,235.20 L590.80,236.20 L589.10,237.20 Z" fill="#2f3a9c"/>
<path d="M591.60,235.20 L593.30,236.20 L591.60,237.20 Z" fill="#2f3a9c"/>
<path d="M594.10,235.20 L595.80,236.20 L594.10,237.20 Z" fill="#2f3a9c"/>
<path d="M596.60,235.20 L598.30,236.20 L596.60,237.20 Z" fill="#2f3a9c"/>
<path d="M599.10,235.20 L600.80,236.20 L599.10,237.20 Z" fill="#2f3a9c"/>
<path d="M601.60,235.20 L603.30,236.20 L601.60,237.20 Z" fill="#2f3a9c"/>
<path d="M604.10,235.20 L605.80,236.20 L604.10,237.20 Z" fill="#2f3a9c"/>
<path d="M606.60,235.20 L608.30,236.20 L606.60,237.20 Z" fill="#2f3a9c"/>
<path d="M609.10,235.20 L610.80,236.20 L609.10,237.20 Z" fill="#2f3a9c"/>
<path d="M611.60,235.20 L613.30,236.20 L611.60,237.20 Z" fill="#2f3a9c"/>
<path d="M614.10,235.20 L615.80,236.20 L614.10,237.20 Z" fill="#2f3a9c"/>
<path d="M616.60,235.20 L618.30,236.20 L616.60,237.20 Z" fill="#2f3a9c"/>
<path d="M619.10,235.20 L620.80,236.20 L619.10,237.20 Z" fill="#2f3a9c"/>
<path d="M621.60,235.20 L623.30,236.20 L621.60,237.20 Z" fill="#2f3a9c"/>
<path d="M624.10,235.20 L625.80,236.20 L624.10,237.20 Z" fill="#2f3a9c"/>
<path d="M626.60,235.20 L628.30,236.20 L626.60,237.20 Z" fill="#2f3a9c"/>
<path d="M629.10,235.20 L630.80,236.20 L629.10,237.20 Z" fill="#2f3a9c"/>
<path d="M631.60,235.20 L633.30,236.20 L631.60,237.20 Z" fill="#2f3a9c"/>
<path d="M634.10,235.20 L635.80,236.20 L634.10,237.20 Z" fill="#2f3a9c"/>
<path d="M636.60,235.20 L638.30,236.20 L636.60,237.20 Z" fill="#2f3a9c"/>
<path d="M639.10,235.20 L640.80,236.20 L639.10,237.20 Z" fill="#2f3a9c"/>
<path d="M641.60,235.20 L643.30,236.20 L641.60,237.20 Z" fill="#2f3a9c"/>
<path d="M644.10,235.20 L645.80,236.20 L644.10,237.20 Z" fill="#2f3a9c"/>
<path d="M646.60,235.20 L648.30,236.20 L646.60,237.20 Z" fill="#2f3a9c"/>
<path d="M649.10,235.20 L650.80,236.20 L649.10,237.20 Z" fill="#2f3a9c"/>
<path d="M651.60,235.20 L653.30,236.20 L651.60,237.20 Z" fill="#2f3a9c"/>
<path d="M654.10,235.20 L655.80,236.20 L654.10,237.20 Z" fill="#2f3a9c"/>
<path d="M656.60,235.20 L658.30,236.20 L656.60,237.20 Z" fill="#2f3a9c"/>
<path d="M659.10,235.20 L660.80,236.20 L659.10,237.20 Z" fill="#2f3a9c"/>
<path d="M661.60,235.20 L663.30,236.20 L661.60,237.20 Z" fill="#2f3a9c"/>
<path d="M664.10,235.20 L665.80,236.20 L664.10,237.20 Z" fill="#2f3a9c"/>
<path d="M666.60,235.20 L668.30,236.20 L666.60,237.20 Z" fill="#2f3a9c"/>
<path d="M669.10,235.20 L670.80,236.20 L669.10,237.20 Z" fill="#2f3a9c"/>
<path d="M671.60,235.20 L673.30,236.20 L671.60,237.20 Z" fill="#2f3a9c"/>
<path d="M674.10,235.20 L675.80,236.20 L674.10,237.20 Z" fill="#2f3a9c"/>
<path d="M676.60,235.20 L678.30,236.20 L676.60,237.20 Z" fill="#2f3a9c"/>
<rect x="567.35" y="229.30" width="0.90" height="8.60" fill="#2f3a9c" opacity="1.0"/>
<rect x="610.95" y="229.30" width="0.90" height="8.60" fill="#2f3a9c" opacity="0.9"/>
<rect x="633.05" y="229.30" width="0.90" height="8.60" fill="#2f3a9c" opacity="0.4"/>
<rect x="663.80" y="229.30" width="0.80" height="8.60" fill="#2f3a9c" opacity="0.5"/>
<rect x="666.10" y="229.30" width="0.80" height="8.60" fill="#2f3a9c" opacity="0.8"/>
<rect x="668.40" y="229.30" width="0.80" height="8.60" fill="#2f3a9c" opacity="0.6"/>
<rect x="671.10" y="229.30" width="0.80" height="8.60" fill="#2f3a9c" opacity="0.8"/>
<rect x="673.60" y="229.30" width="0.80" height="8.60" fill="#2f3a9c" opacity="0.5"/>
<rect x="675.30" y="229.30" width="0.80" height="8.60" fill="#2f3a9c" opacity="0.7"/>
<rect x="678.80" y="229.60" width="2.10" height="3.30" fill="#2f3a9c" />
<text x="381" y="251.2" font-size="7.3" fill="#222" text-anchor="start" font-weight="normal" font-style="normal" font-family="Liberation Sans" ><tspan font-style="italic">URI1</tspan> enhancer region</text>
<text x="532.4" y="251.2" font-size="7.3" fill="#222" text-anchor="start" font-weight="normal" font-style="normal" font-family="Liberation Sans" ><tspan font-style="italic">URI1</tspan> promoter region</text>
<rect x="414.50" y="257.50" width="6.20" height="31.10" fill="#b9e0ec" />
<rect x="458.20" y="257.50" width="6.40" height="31.10" fill="#dccae3" />
<rect x="564.10" y="257.40" width="7.00" height="31.60" fill="#bfe4f7" />
<polygon points="404.60,279.10 405.30,276.00 406.00,279.10" fill="#e07a8a" />
<polygon points="415.20,279.10 416.50,272.00 417.20,265.00 417.70,261.30 418.20,261.30 418.60,266.00 419.30,279.10" fill="#62c9d6" />
<polygon points="416.00,279.10 417.00,272.00 417.60,266.00 418.00,263.50 418.50,268.00 419.00,274.00 419.60,279.10" fill="#2e2468" />
<ellipse cx="417.9" cy="262" rx="0.5" ry="1.0" fill="#8a5aa0"/>
<polygon points="460.20,279.10 461.00,275.80 461.80,279.10" fill="#8a4a7a" />
<polygon points="497.80,279.10 498.50,276.00 499.20,279.10" fill="#e07070" />
<polygon points="544.40,279.10 545.00,276.00 545.60,279.10" fill="#e07070" />
<polygon points="565.60,279.10 566.40,266.00 567.00,260.60 567.60,265.00 568.30,279.10" fill="#62c9d6" />
<polygon points="566.20,279.10 566.80,268.00 567.20,262.50 567.70,268.00 568.50,273.00 569.50,274.50 570.50,276.00 572.50,279.10" fill="#2e2468" />
<polygon points="568.50,279.10 569.30,275.00 570.50,276.50 571.50,275.80 573.50,279.10" fill="#8a5a9a" opacity="0.8"/>
<ellipse cx="567.1" cy="261.2" rx="0.5" ry="1.0" fill="#8a5aa0"/>
<polygon points="590.50,279.10 591.20,277.20 592.00,279.10" fill="#e07a8a" />
<polygon points="630.00,279.10 630.60,277.50 631.20,279.10" fill="#b070a0" />
<rect x="402.40" y="278.50" width="2.24" height="1.20" fill="#d07080" />
<rect x="404.64" y="278.50" width="3.17" height="1.20" fill="#5a3a7a" />
<rect x="407.81" y="278.50" width="2.24" height="1.20" fill="#4a5ab8" />
<rect x="410.05" y="278.50" width="1.64" height="1.20" fill="#5a64c8" />
<rect x="411.69" y="278.50" width="2.29" height="1.20" fill="#2b2157" />
<rect x="413.98" y="278.50" width="1.42" height="1.20" fill="#3a2f78" />
<rect x="415.40" y="278.50" width="1.53" height="1.20" fill="#d07080" />
<rect x="416.92" y="278.50" width="3.06" height="1.20" fill="#2b2157" />
<rect x="419.99" y="278.50" width="2.57" height="1.20" fill="#5a3a7a" />
<rect x="422.56" y="278.50" width="3.42" height="1.20" fill="#2b2157" />
<rect x="425.97" y="278.50" width="2.63" height="1.20" fill="#5a64c8" />
<rect x="428.61" y="278.50" width="1.35" height="1.20" fill="#2b2157" />
<rect x="429.95" y="278.50" width="1.64" height="1.20" fill="#2b2157" />
<rect x="431.59" y="278.50" width="2.58" height="1.20" fill="#5a3a7a" />
<rect x="434.17" y="278.50" width="1.95" height="1.20" fill="#4a5ab8" />
<rect x="436.12" y="278.50" width="3.14" height="1.20" fill="#5a64c8" />
<rect x="439.26" y="278.50" width="1.74" height="1.20" fill="#3a2f78" />
<rect x="441.00" y="278.50" width="2.35" height="1.20" fill="#2b2157" />
<rect x="443.34" y="278.50" width="2.25" height="1.20" fill="#3a2f78" />
<rect x="445.60" y="278.50" width="2.14" height="1.20" fill="#d07080" />
<rect x="447.73" y="278.50" width="3.49" height="1.20" fill="#2b2157" />
<rect x="451.22" y="278.50" width="2.83" height="1.20" fill="#3a2f78" />
<rect x="454.05" y="278.50" width="2.94" height="1.20" fill="#5a64c8" />
<rect x="456.99" y="278.50" width="1.86" height="1.20" fill="#2b2157" />
<rect x="458.86" y="278.50" width="2.50" height="1.20" fill="#2b2157" />
<rect x="461.35" y="278.50" width="2.12" height="1.20" fill="#3a2f78" />
<rect x="463.47" y="278.50" width="2.09" height="1.20" fill="#2b2157" />
<rect x="465.56" y="278.50" width="3.15" height="1.20" fill="#2b2157" />
<rect x="468.71" y="278.50" width="1.69" height="1.20" fill="#2b2157" />
<rect x="470.40" y="278.50" width="2.28" height="1.20" fill="#5a3a7a" />
<rect x="472.68" y="278.50" width="2.17" height="1.20" fill="#4a5ab8" />
<rect x="474.85" y="278.50" width="2.65" height="1.20" fill="#3a2f78" />
<rect x="477.50" y="278.50" width="1.97" height="1.20" fill="#3a2f78" />
<rect x="479.47" y="278.50" width="1.96" height="1.20" fill="#5a3a7a" />
<rect x="481.44" y="278.50" width="2.94" height="1.20" fill="#2b2157" />
<rect x="484.38" y="278.50" width="1.51" height="1.20" fill="#2b2157" />
<rect x="485.89" y="278.50" width="1.23" height="1.20" fill="#5a3a7a" />
<rect x="487.12" y="278.50" width="3.03" height="1.20" fill="#2b2157" />
<rect x="490.15" y="278.50" width="2.77" height="1.20" fill="#2b2157" />
<rect x="492.92" y="278.50" width="2.23" height="1.20" fill="#2b2157" />
<rect x="495.15" y="278.50" width="3.47" height="1.20" fill="#2b2157" />
<rect x="498.61" y="278.50" width="2.16" height="1.20" fill="#5a3a7a" />
<rect x="500.78" y="278.50" width="1.47" height="1.20" fill="#5a3a7a" />
<rect x="502.25" y="278.50" width="3.48" height="1.20" fill="#2b2157" />
<rect x="505.72" y="278.50" width="1.82" height="1.20" fill="#4a5ab8" />
<rect x="507.54" y="278.50" width="1.90" height="1.20" fill="#2b2157" />
<rect x="509.44" y="278.50" width="1.68" height="1.20" fill="#5a3a7a" />
<rect x="511.13" y="278.50" width="3.49" height="1.20" fill="#4a5ab8" />
<rect x="514.62" y="278.50" width="1.43" height="1.20" fill="#2b2157" />
<rect x="516.05" y="278.50" width="1.69" height="1.20" fill="#3a2f78" />
<rect x="517.74" y="278.50" width="1.22" height="1.20" fill="#3a2f78" />
<rect x="518.96" y="278.50" width="3.11" height="1.20" fill="#5a3a7a" />
<rect x="522.07" y="278.50" width="1.37" height="1.20" fill="#2b2157" />
<rect x="523.44" y="278.50" width="1.68" height="1.20" fill="#2b2157" />
<rect x="525.12" y="278.50" width="1.24" height="1.20" fill="#3a2f78" />
<rect x="526.35" y="278.50" width="2.05" height="1.20" fill="#5a3a7a" />
<rect x="528.41" y="278.50" width="1.49" height="1.20" fill="#4a5ab8" />
<rect x="529.90" y="278.50" width="2.31" height="1.20" fill="#4a5ab8" />
<rect x="532.21" y="278.50" width="1.51" height="1.20" fill="#5a3a7a" />
<rect x="533.73" y="278.50" width="1.62" height="1.20" fill="#2b2157" />
<rect x="535.35" y="278.50" width="1.91" height="1.20" fill="#2b2157" />
<rect x="537.26" y="278.50" width="3.08" height="1.20" fill="#2b2157" />
<rect x="540.34" y="278.50" width="2.87" height="1.20" fill="#2b2157" />
<rect x="543.21" y="278.50" width="2.90" height="1.20" fill="#d07080" />
<rect x="546.11" y="278.50" width="1.65" height="1.20" fill="#5a3a7a" />
<rect x="547.76" y="278.50" width="3.23" height="1.20" fill="#2b2157" />
<rect x="550.99" y="278.50" width="2.17" height="1.20" fill="#2b2157" />
<rect x="553.16" y="278.50" width="1.45" height="1.20" fill="#5a64c8" />
<rect x="554.61" y="278.50" width="3.41" height="1.20" fill="#2b2157" />
<rect x="558.03" y="278.50" width="2.90" height="1.20" fill="#5a3a7a" />
<rect x="560.93" y="278.50" width="1.79" height="1.20" fill="#b8506e" />
<rect x="562.72" y="278.50" width="1.87" height="1.20" fill="#2b2157" />
<rect x="564.60" y="278.50" width="3.34" height="1.20" fill="#2b2157" />
<rect x="567.93" y="278.50" width="1.49" height="1.20" fill="#b8506e" />
<rect x="569.42" y="278.50" width="2.49" height="1.20" fill="#2b2157" />
<rect x="571.91" y="278.50" width="1.84" height="1.20" fill="#2b2157" />
<rect x="573.75" y="278.50" width="2.92" height="1.20" fill="#2b2157" />
<rect x="576.68" y="278.50" width="1.82" height="1.20" fill="#5a3a7a" />
<rect x="578.50" y="278.50" width="1.77" height="1.20" fill="#2b2157" />
<rect x="580.27" y="278.50" width="1.61" height="1.20" fill="#3a2f78" />
<rect x="581.87" y="278.50" width="2.42" height="1.20" fill="#2b2157" />
<rect x="584.30" y="278.50" width="1.41" height="1.20" fill="#2b2157" />
<rect x="585.71" y="278.50" width="3.25" height="1.20" fill="#3a2f78" />
<rect x="588.96" y="278.50" width="2.71" height="1.20" fill="#5a64c8" />
<rect x="591.67" y="278.50" width="2.54" height="1.20" fill="#2b2157" />
<rect x="594.21" y="278.50" width="2.56" height="1.20" fill="#2b2157" />
<rect x="596.77" y="278.50" width="2.29" height="1.20" fill="#3a2f78" />
<rect x="599.06" y="278.50" width="2.81" height="1.20" fill="#2b2157" />
<rect x="601.87" y="278.50" width="1.25" height="1.20" fill="#2b2157" />
<rect x="603.12" y="278.50" width="2.31" height="1.20" fill="#3a2f78" />
<rect x="605.43" y="278.50" width="1.93" height="1.20" fill="#2b2157" />
<rect x="607.36" y="278.50" width="1.37" height="1.20" fill="#d07080" />
<rect x="608.74" y="278.50" width="2.05" height="1.20" fill="#2b2157" />
<rect x="610.78" y="278.50" width="3.27" height="1.20" fill="#2b2157" />
<rect x="614.05" y="278.50" width="3.02" height="1.20" fill="#3a2f78" />
<rect x="617.08" y="278.50" width="2.01" height="1.20" fill="#b8506e" />
<rect x="619.09" y="278.50" width="3.27" height="1.20" fill="#5a3a7a" />
<rect x="622.36" y="278.50" width="3.37" height="1.20" fill="#2b2157" />
<rect x="625.73" y="278.50" width="3.19" height="1.20" fill="#4a5ab8" />
<rect x="628.92" y="278.50" width="1.23" height="1.20" fill="#5a3a7a" />
<rect x="630.15" y="278.50" width="2.07" height="1.20" fill="#2b2157" />
<rect x="632.22" y="278.50" width="2.60" height="1.20" fill="#2b2157" />
<rect x="634.82" y="278.50" width="1.41" height="1.20" fill="#2b2157" />
<rect x="636.23" y="278.50" width="3.48" height="1.20" fill="#5a3a7a" />
<rect x="639.72" y="278.50" width="2.87" height="1.20" fill="#5a3a7a" />
<rect x="642.59" y="278.50" width="3.35" height="1.20" fill="#4a5ab8" />
<rect x="645.94" y="278.50" width="2.25" height="1.20" fill="#5a3a7a" />
<rect x="648.19" y="278.50" width="3.13" height="1.20" fill="#2b2157" />
<rect x="651.32" y="278.50" width="2.39" height="1.20" fill="#5a64c8" />
<rect x="653.71" y="278.50" width="1.27" height="1.20" fill="#2b2157" />
<rect x="654.98" y="278.50" width="2.31" height="1.20" fill="#2b2157" />
<rect x="657.29" y="278.50" width="3.40" height="1.20" fill="#2b2157" />
<rect x="660.69" y="278.50" width="2.34" height="1.20" fill="#b8506e" />
<rect x="663.03" y="278.50" width="1.79" height="1.20" fill="#2b2157" />
<rect x="664.82" y="278.50" width="2.05" height="1.20" fill="#2b2157" />
<rect x="666.87" y="278.50" width="2.76" height="1.20" fill="#2b2157" />
<rect x="669.63" y="278.50" width="2.39" height="1.20" fill="#3a2f78" />
<rect x="672.02" y="278.50" width="2.72" height="1.20" fill="#5a3a7a" />
<rect x="674.74" y="278.50" width="2.35" height="1.20" fill="#2b2157" />
<rect x="677.09" y="278.50" width="1.95" height="1.20" fill="#3a2f78" />
<rect x="679.04" y="278.50" width="1.66" height="1.20" fill="#5a3a7a" />
<rect x="680.69" y="278.50" width="2.51" height="1.20" fill="#2b2157" />
<line x1="416.50" y1="281.20" x2="364.90" y2="315.90" stroke="#444" stroke-width="0.7" />
<line x1="419.40" y1="281.20" x2="465.80" y2="317.00" stroke="#444" stroke-width="0.7" />
<line x1="416.20" y1="281.20" x2="416.20" y2="317.00" stroke="#444" stroke-width="0.7" />
<line x1="418.40" y1="281.20" x2="418.40" y2="317.00" stroke="#444" stroke-width="0.7" />
<line x1="565.80" y1="281.00" x2="515.50" y2="315.00" stroke="#444" stroke-width="0.7" />
<line x1="568.50" y1="281.00" x2="614.30" y2="316.50" stroke="#444" stroke-width="0.7" />
<line x1="565.40" y1="281.00" x2="565.40" y2="316.00" stroke="#444" stroke-width="0.7" />
<line x1="567.30" y1="281.00" x2="567.30" y2="316.00" stroke="#444" stroke-width="0.7" />
<rect x="376.40" y="317.00" width="25.40" height="10.90" fill="#4b3597" />
<text x="365.15" y="325.19" font-size="7.6" fill="#1a1a1a" text-anchor="middle" font-family="Liberation Sans" transform="translate(365.15,0) scale(0.82,1) translate(-365.15,0)" stroke="#1a1a1a" stroke-width="0.18">C</text>
<text x="369.65" y="325.19" font-size="7.6" fill="#1a1a1a" text-anchor="middle" font-family="Liberation Sans" transform="translate(369.65,0) scale(0.82,1) translate(-369.65,0)" stroke="#1a1a1a" stroke-width="0.18">T</text>
<text x="374.15" y="325.19" font-size="7.6" fill="#1a1a1a" text-anchor="middle" font-family="Liberation Sans" transform="translate(374.15,0) scale(0.82,1) translate(-374.15,0)" stroke="#1a1a1a" stroke-width="0.18">C</text>
<text x="378.52" y="325.19" font-size="7.6" fill="#ffffff" text-anchor="middle" font-family="Liberation Sans" transform="translate(378.52,0) scale(0.82,1) translate(-378.52,0)" stroke="#ffffff" stroke-width="0.18">C</text>
<text x="382.75" y="325.19" font-size="7.6" fill="#ffffff" text-anchor="middle" font-family="Liberation Sans" transform="translate(382.75,0) scale(0.82,1) translate(-382.75,0)" stroke="#ffffff" stroke-width="0.18">A</text>
<text x="386.98" y="325.19" font-size="7.6" fill="#ffffff" text-anchor="middle" font-family="Liberation Sans" transform="translate(386.98,0) scale(0.82,1) translate(-386.98,0)" stroke="#ffffff" stroke-width="0.18">C</text>
<text x="391.22" y="325.19" font-size="7.6" fill="#ffffff" text-anchor="middle" font-family="Liberation Sans" transform="translate(391.22,0) scale(0.82,1) translate(-391.22,0)" stroke="#ffffff" stroke-width="0.18">G</text>
<text x="395.45" y="325.19" font-size="7.6" fill="#ffffff" text-anchor="middle" font-family="Liberation Sans" transform="translate(395.45,0) scale(0.82,1) translate(-395.45,0)" stroke="#ffffff" stroke-width="0.18">T</text>
<text x="399.68" y="325.19" font-size="7.6" fill="#ffffff" text-anchor="middle" font-family="Liberation Sans" transform="translate(399.68,0) scale(0.82,1) translate(-399.68,0)" stroke="#ffffff" stroke-width="0.18">G</text>
<text x="403.98" y="325.19" font-size="7.6" fill="#1a1a1a" text-anchor="middle" font-family="Liberation Sans" transform="translate(403.98,0) scale(0.82,1) translate(-403.98,0)" stroke="#1a1a1a" stroke-width="0.18">C</text>
<text x="408.35" y="325.19" font-size="7.6" fill="#1a1a1a" text-anchor="middle" font-family="Liberation Sans" transform="translate(408.35,0) scale(0.82,1) translate(-408.35,0)" stroke="#1a1a1a" stroke-width="0.18">G</text>
<text x="412.72" y="325.19" font-size="7.6" fill="#1a1a1a" text-anchor="middle" font-family="Liberation Sans" transform="translate(412.72,0) scale(0.82,1) translate(-412.72,0)" stroke="#1a1a1a" stroke-width="0.18">C</text>
<rect x="431.90" y="317.00" width="25.10" height="10.90" fill="#4b3597" />
<text x="421.40" y="325.19" font-size="7.6" fill="#1a1a1a" text-anchor="middle" font-family="Liberation Sans" transform="translate(421.40,0) scale(0.82,1) translate(-421.40,0)" stroke="#1a1a1a" stroke-width="0.18">T</text>
<text x="425.60" y="325.19" font-size="7.6" fill="#1a1a1a" text-anchor="middle" font-family="Liberation Sans" transform="translate(425.60,0) scale(0.82,1) translate(-425.60,0)" stroke="#1a1a1a" stroke-width="0.18">T</text>
<text x="429.80" y="325.19" font-size="7.6" fill="#1a1a1a" text-anchor="middle" font-family="Liberation Sans" transform="translate(429.80,0) scale(0.82,1) translate(-429.80,0)" stroke="#1a1a1a" stroke-width="0.18">C</text>
<text x="433.99" y="325.19" font-size="7.6" fill="#ffffff" text-anchor="middle" font-family="Liberation Sans" transform="translate(433.99,0) scale(0.82,1) translate(-433.99,0)" stroke="#ffffff" stroke-width="0.18">C</text>
<text x="438.17" y="325.19" font-size="7.6" fill="#ffffff" text-anchor="middle" font-family="Liberation Sans" transform="translate(438.17,0) scale(0.82,1) translate(-438.17,0)" stroke="#ffffff" stroke-width="0.18">A</text>
<text x="442.36" y="325.19" font-size="7.6" fill="#ffffff" text-anchor="middle" font-family="Liberation Sans" transform="translate(442.36,0) scale(0.82,1) translate(-442.36,0)" stroke="#ffffff" stroke-width="0.18">C</text>
<text x="446.54" y="325.19" font-size="7.6" fill="#ffffff" text-anchor="middle" font-family="Liberation Sans" transform="translate(446.54,0) scale(0.82,1) translate(-446.54,0)" stroke="#ffffff" stroke-width="0.18">G</text>
<text x="450.73" y="325.19" font-size="7.6" fill="#ffffff" text-anchor="middle" font-family="Liberation Sans" transform="translate(450.73,0) scale(0.82,1) translate(-450.73,0)" stroke="#ffffff" stroke-width="0.18">T</text>
<text x="454.91" y="325.19" font-size="7.6" fill="#ffffff" text-anchor="middle" font-family="Liberation Sans" transform="translate(454.91,0) scale(0.82,1) translate(-454.91,0)" stroke="#ffffff" stroke-width="0.18">G</text>
<text x="459.10" y="325.19" font-size="7.6" fill="#1a1a1a" text-anchor="middle" font-family="Liberation Sans" transform="translate(459.10,0) scale(0.82,1) translate(-459.10,0)" stroke="#1a1a1a" stroke-width="0.18">C</text>
<text x="463.30" y="325.19" font-size="7.6" fill="#1a1a1a" text-anchor="middle" font-family="Liberation Sans" transform="translate(463.30,0) scale(0.82,1) translate(-463.30,0)" stroke="#1a1a1a" stroke-width="0.18">T</text>
<text x="467.50" y="325.19" font-size="7.6" fill="#1a1a1a" text-anchor="middle" font-family="Liberation Sans" transform="translate(467.50,0) scale(0.82,1) translate(-467.50,0)" stroke="#1a1a1a" stroke-width="0.18">T</text>
<rect x="526.00" y="315.30" width="25.40" height="10.50" fill="#4b3597" />
<text x="515.08" y="323.29" font-size="7.6" fill="#1a1a1a" text-anchor="middle" font-family="Liberation Sans" transform="translate(515.08,0) scale(0.82,1) translate(-515.08,0)" stroke="#1a1a1a" stroke-width="0.18">A</text>
<text x="519.45" y="323.29" font-size="7.6" fill="#1a1a1a" text-anchor="middle" font-family="Liberation Sans" transform="translate(519.45,0) scale(0.82,1) translate(-519.45,0)" stroke="#1a1a1a" stroke-width="0.18">T</text>
<text x="523.82" y="323.29" font-size="7.6" fill="#1a1a1a" text-anchor="middle" font-family="Liberation Sans" transform="translate(523.82,0) scale(0.82,1) translate(-523.82,0)" stroke="#1a1a1a" stroke-width="0.18">G</text>
<text x="528.12" y="323.29" font-size="7.6" fill="#ffffff" text-anchor="middle" font-family="Liberation Sans" transform="translate(528.12,0) scale(0.82,1) translate(-528.12,0)" stroke="#ffffff" stroke-width="0.18">C</text>
<text x="532.35" y="323.29" font-size="7.6" fill="#ffffff" text-anchor="middle" font-family="Liberation Sans" transform="translate(532.35,0) scale(0.82,1) translate(-532.35,0)" stroke="#ffffff" stroke-width="0.18">A</text>
<text x="536.58" y="323.29" font-size="7.6" fill="#ffffff" text-anchor="middle" font-family="Liberation Sans" transform="translate(536.58,0) scale(0.82,1) translate(-536.58,0)" stroke="#ffffff" stroke-width="0.18">C</text>
<text x="540.82" y="323.29" font-size="7.6" fill="#ffffff" text-anchor="middle" font-family="Liberation Sans" transform="translate(540.82,0) scale(0.82,1) translate(-540.82,0)" stroke="#ffffff" stroke-width="0.18">G</text>
<text x="545.05" y="323.29" font-size="7.6" fill="#ffffff" text-anchor="middle" font-family="Liberation Sans" transform="translate(545.05,0) scale(0.82,1) translate(-545.05,0)" stroke="#ffffff" stroke-width="0.18">T</text>
<text x="549.28" y="323.29" font-size="7.6" fill="#ffffff" text-anchor="middle" font-family="Liberation Sans" transform="translate(549.28,0) scale(0.82,1) translate(-549.28,0)" stroke="#ffffff" stroke-width="0.18">G</text>
<text x="553.60" y="323.29" font-size="7.6" fill="#1a1a1a" text-anchor="middle" font-family="Liberation Sans" transform="translate(553.60,0) scale(0.82,1) translate(-553.60,0)" stroke="#1a1a1a" stroke-width="0.18">T</text>
<text x="558.00" y="323.29" font-size="7.6" fill="#1a1a1a" text-anchor="middle" font-family="Liberation Sans" transform="translate(558.00,0) scale(0.82,1) translate(-558.00,0)" stroke="#1a1a1a" stroke-width="0.18">G</text>
<text x="562.40" y="323.29" font-size="7.6" fill="#1a1a1a" text-anchor="middle" font-family="Liberation Sans" transform="translate(562.40,0) scale(0.82,1) translate(-562.40,0)" stroke="#1a1a1a" stroke-width="0.18">A</text>
<rect x="579.50" y="317.00" width="22.70" height="9.60" fill="#4b3597" />
<text x="570.00" y="324.39" font-size="7.2" fill="#1a1a1a" text-anchor="middle" font-family="Liberation Sans" transform="translate(570.00,0) scale(0.82,1) translate(-570.00,0)" stroke="#1a1a1a" stroke-width="0.18">T</text>
<text x="573.80" y="324.39" font-size="7.2" fill="#1a1a1a" text-anchor="middle" font-family="Liberation Sans" transform="translate(573.80,0) scale(0.82,1) translate(-573.80,0)" stroke="#1a1a1a" stroke-width="0.18">G</text>
<text x="577.60" y="324.39" font-size="7.2" fill="#1a1a1a" text-anchor="middle" font-family="Liberation Sans" transform="translate(577.60,0) scale(0.82,1) translate(-577.60,0)" stroke="#1a1a1a" stroke-width="0.18">T</text>
<text x="581.39" y="324.39" font-size="7.2" fill="#ffffff" text-anchor="middle" font-family="Liberation Sans" transform="translate(581.39,0) scale(0.82,1) translate(-581.39,0)" stroke="#ffffff" stroke-width="0.18">C</text>
<text x="585.17" y="324.39" font-size="7.2" fill="#ffffff" text-anchor="middle" font-family="Liberation Sans" transform="translate(585.17,0) scale(0.82,1) translate(-585.17,0)" stroke="#ffffff" stroke-width="0.18">A</text>
<text x="588.96" y="324.39" font-size="7.2" fill="#ffffff" text-anchor="middle" font-family="Liberation Sans" transform="translate(588.96,0) scale(0.82,1) translate(-588.96,0)" stroke="#ffffff" stroke-width="0.18">C</text>
<text x="592.74" y="324.39" font-size="7.2" fill="#ffffff" text-anchor="middle" font-family="Liberation Sans" transform="translate(592.74,0) scale(0.82,1) translate(-592.74,0)" stroke="#ffffff" stroke-width="0.18">G</text>
<text x="596.53" y="324.39" font-size="7.2" fill="#ffffff" text-anchor="middle" font-family="Liberation Sans" transform="translate(596.53,0) scale(0.82,1) translate(-596.53,0)" stroke="#ffffff" stroke-width="0.18">T</text>
<text x="600.31" y="324.39" font-size="7.2" fill="#ffffff" text-anchor="middle" font-family="Liberation Sans" transform="translate(600.31,0) scale(0.82,1) translate(-600.31,0)" stroke="#ffffff" stroke-width="0.18">G</text>
<text x="604.17" y="324.39" font-size="7.2" fill="#1a1a1a" text-anchor="middle" font-family="Liberation Sans" transform="translate(604.17,0) scale(0.82,1) translate(-604.17,0)" stroke="#1a1a1a" stroke-width="0.18">C</text>
<text x="608.10" y="324.39" font-size="7.2" fill="#1a1a1a" text-anchor="middle" font-family="Liberation Sans" transform="translate(608.10,0) scale(0.82,1) translate(-608.10,0)" stroke="#1a1a1a" stroke-width="0.18">T</text>
<text x="612.03" y="324.39" font-size="7.2" fill="#1a1a1a" text-anchor="middle" font-family="Liberation Sans" transform="translate(612.03,0) scale(0.82,1) translate(-612.03,0)" stroke="#1a1a1a" stroke-width="0.18">T</text>
<text x="5.5" y="413.7" font-size="14" fill="#111" text-anchor="start" font-weight="bold" font-style="normal" font-family="Liberation Sans" >d</text>
<text x="24.6" y="414.8" font-size="8.5" fill="#222" text-anchor="start" font-weight="normal" font-style="normal" font-family="Liberation Sans" ><tspan font-style="italic">URI</tspan> promoter</text>
<text x="58.7" y="428.9" font-size="7.2" fill="#333" text-anchor="middle" font-weight="normal" font-style="normal" font-family="Liberation Sans" >p=0.03</text>
<polygon points="59.00,434.10 59.72,436.01 61.76,436.10 60.16,437.38 60.70,439.35 59.00,438.22 57.30,439.35 57.84,437.38 56.24,436.10 58.28,436.01" fill="#222"/>
<line x1="49.00" y1="441.40" x2="68.90" y2="441.40" stroke="#555" stroke-width="0.9" />
<line x1="36.60" y1="435.20" x2="36.60" y2="559.40" stroke="#333" stroke-width="0.8" />
<line x1="36.60" y1="559.40" x2="81.30" y2="559.40" stroke="#333" stroke-width="0.8" />
<line x1="33.80" y1="529.77" x2="36.60" y2="529.77" stroke="#444" stroke-width="0.8" />
<text x="31.7" y="532.375" font-size="7.4" fill="#60666e" text-anchor="end" font-weight="normal" font-style="normal" font-family="Liberation Sans" >50</text>
<line x1="33.80" y1="500.15" x2="36.60" y2="500.15" stroke="#444" stroke-width="0.8" />
<text x="31.7" y="502.75" font-size="7.4" fill="#60666e" text-anchor="end" font-weight="normal" font-style="normal" font-family="Liberation Sans" >100</text>
<line x1="33.80" y1="470.52" x2="36.60" y2="470.52" stroke="#444" stroke-width="0.8" />
<text x="31.7" y="473.125" font-size="7.4" fill="#60666e" text-anchor="end" font-weight="normal" font-style="normal" font-family="Liberation Sans" >150</text>
<line x1="33.80" y1="440.90" x2="36.60" y2="440.90" stroke="#444" stroke-width="0.8" />
<text x="31.7" y="443.5" font-size="7.4" fill="#60666e" text-anchor="end" font-weight="normal" font-style="normal" font-family="Liberation Sans" >200</text>
<text transform="translate(16.3,488.1) rotate(-90)" font-size="8.5" fill="#222" text-anchor="middle" font-family="Liberation Sans">% input (FC)</text>
<rect x="60.10" y="496.40" width="18.10" height="63.00" fill="#283b95" />
<line x1="69.10" y1="475.80" x2="69.10" y2="516.80" stroke="#111" stroke-width="1.1" />
<line x1="66.50" y1="475.80" x2="71.80" y2="475.80" stroke="#111" stroke-width="1.1" />
<line x1="66.50" y1="516.80" x2="71.80" y2="516.80" stroke="#111" stroke-width="1.1" />
<circle cx="70.50" cy="509.40" r="1.8" fill="#fff" stroke="#111" stroke-width="0.95"/>
<circle cx="69.30" cy="531.80" r="1.8" fill="#fff" stroke="#111" stroke-width="0.95"/>
<circle cx="70.80" cy="544.20" r="1.8" fill="#fff" stroke="#111" stroke-width="0.95"/>
<circle cx="69.10" cy="446.60" r="2.0" fill="#fff" stroke="#111" stroke-width="0.95"/>
<circle cx="68.20" cy="450.00" r="2.0" fill="#fff" stroke="#111" stroke-width="0.95"/>
<rect x="45.8" y="557.4" width="9.1" height="3.6" rx="1.8" fill="#111"/>
<rect x="48.30" y="558.60" width="1.20" height="1.00" fill="#555" />
<rect x="50.30" y="558.60" width="1.20" height="1.00" fill="#555" />
<rect x="52.40" y="558.40" width="1.40" height="1.30" fill="#eee" />
<line x1="48.30" y1="559.40" x2="48.30" y2="561.00" stroke="#555" stroke-width="0.6" />
<line x1="69.10" y1="559.40" x2="69.10" y2="561.00" stroke="#555" stroke-width="0.6" />
<text x="47.6" y="568.7" font-size="7.1" fill="#666" text-anchor="middle" font-weight="normal" font-style="normal" font-family="Liberation Sans" >IgG</text>
<text x="69.1" y="568.7" font-size="7.2" fill="#666" text-anchor="middle" font-weight="normal" font-style="normal" font-family="Liberation Sans" >MYC</text>
<text x="89.1" y="413.9" font-size="14" fill="#111" text-anchor="start" font-weight="bold" font-style="normal" font-family="Liberation Sans" >e</text>
<text x="103.7" y="414.8" font-size="8.5" fill="#222" text-anchor="start" font-weight="normal" font-style="normal" font-family="Liberation Sans" ><tspan font-style="italic">URI</tspan> enhancer</text>
<text x="135.3" y="428.5" font-size="7.2" fill="#333" text-anchor="middle" font-weight="normal" font-style="normal" font-family="Liberation Sans" >p=0.027</text>
<polygon points="136.80,433.60 137.52,435.51 139.56,435.60 137.96,436.88 138.50,438.85 136.80,437.72 135.10,438.85 135.64,436.88 134.04,435.60 136.08,435.51" fill="#222"/>
<line x1="126.20" y1="440.50" x2="146.70" y2="440.50" stroke="#555" stroke-width="0.9" />
<line x1="112.70" y1="435.40" x2="112.70" y2="559.40" stroke="#333" stroke-width="0.8" />
<line x1="112.70" y1="559.40" x2="161.10" y2="559.40" stroke="#333" stroke-width="0.8" />
<line x1="109.90" y1="517.40" x2="112.70" y2="517.40" stroke="#444" stroke-width="0.8" />
<text x="109.1" y="520.0" font-size="7.4" fill="#60666e" text-anchor="end" font-weight="normal" font-style="normal" font-family="Liberation Sans" >10</text>
<line x1="109.90" y1="475.40" x2="112.70" y2="475.40" stroke="#444" stroke-width="0.8" />
<text x="109.1" y="478.0" font-size="7.4" fill="#60666e" text-anchor="end" font-weight="normal" font-style="normal" font-family="Liberation Sans" >20</text>
<text transform="translate(94.8,481.5) rotate(-90)" font-size="8.5" fill="#222" text-anchor="middle" font-family="Liberation Sans">% input (FC)</text>
<rect x="116.10" y="555.30" width="19.90" height="4.10" fill="#7da0d8" />
<rect x="138.60" y="496.80" width="20.00" height="62.60" fill="#283b95" />
<line x1="148.30" y1="475.50" x2="148.30" y2="517.60" stroke="#111" stroke-width="1.1" />
<line x1="145.10" y1="475.50" x2="151.50" y2="475.50" stroke="#111" stroke-width="1.1" />
<line x1="145.10" y1="517.60" x2="151.50" y2="517.60" stroke="#111" stroke-width="1.1" />
<circle cx="146.50" cy="475.90" r="1.8" fill="#fff" stroke="#111" stroke-width="0.95"/>
<circle cx="146.40" cy="446.50" r="1.8" fill="#fff" stroke="#111" stroke-width="0.95"/>
<circle cx="147.50" cy="532.20" r="1.8" fill="#fff" stroke="#111" stroke-width="0.95"/>
<circle cx="148.80" cy="530.50" r="1.8" fill="#fff" stroke="#111" stroke-width="0.95"/>
<line x1="120.50" y1="555.60" x2="131.50" y2="555.60" stroke="#111" stroke-width="1.0" />
<circle cx="120.60" cy="555.60" r="1.8" fill="#fff" stroke="#111" stroke-width="0.95"/>
<circle cx="124.40" cy="554.80" r="1.8" fill="#fff" stroke="#111" stroke-width="0.95"/>
<circle cx="131.30" cy="555.60" r="1.8" fill="#fff" stroke="#111" stroke-width="0.95"/>
<line x1="125.20" y1="559.40" x2="125.20" y2="561.00" stroke="#555" stroke-width="0.6" />
<line x1="148.30" y1="559.40" x2="148.30" y2="561.00" stroke="#555" stroke-width="0.6" />
<text x="125.2" y="568.3" font-size="7.1" fill="#666" text-anchor="middle" font-weight="normal" font-style="normal" font-family="Liberation Sans" >IgG</text>
<text x="148.3" y="568.3" font-size="7.2" fill="#666" text-anchor="middle" font-weight="normal" font-style="normal" font-family="Liberation Sans" >MYC</text>
<text x="186.3" y="413.7" font-size="14" fill="#111" text-anchor="start" font-weight="bold" font-style="normal" font-family="Liberation Sans" >f</text>
<text x="256.0" y="410.4" font-size="7.2" fill="#333" text-anchor="middle" font-weight="normal" font-style="normal" font-family="Liberation Sans" >p=0.0007</text>
<polygon points="251.60,412.50 252.24,414.22 254.07,414.30 252.64,415.44 253.13,417.20 251.60,416.19 250.07,417.20 250.56,415.44 249.13,414.30 250.96,414.22" fill="#222"/>
<polygon points="257.40,412.50 258.04,414.22 259.87,414.30 258.44,415.44 258.93,417.20 257.40,416.19 255.87,417.20 256.36,415.44 254.93,414.30 256.76,414.22" fill="#222"/>
<polygon points="263.20,412.50 263.84,414.22 265.67,414.30 264.24,415.44 264.73,417.20 263.20,416.19 261.67,417.20 262.16,415.44 260.73,414.30 262.56,414.22" fill="#222"/>
<line x1="241.90" y1="420.90" x2="273.90" y2="420.90" stroke="#aaa" stroke-width="1.1" />
<text x="265.2" y="432.6" font-size="7.2" fill="#333" text-anchor="middle" font-weight="normal" font-style="normal" font-family="Liberation Sans" >p=0.00005</text>
<polygon points="259.80,436.30 260.44,438.02 262.27,438.10 260.84,439.24 261.33,441.00 259.80,439.99 258.27,441.00 258.76,439.24 257.33,438.10 259.16,438.02" fill="#222"/>
<polygon points="265.25,436.30 265.89,438.02 267.72,438.10 266.29,439.24 266.78,441.00 265.25,439.99 263.72,441.00 264.21,439.24 262.78,438.10 264.61,438.02" fill="#222"/>
<polygon points="270.70,436.30 271.34,438.02 273.17,438.10 271.74,439.24 272.23,441.00 270.70,439.99 269.17,441.00 269.66,439.24 268.23,438.10 270.06,438.02" fill="#222"/>
<line x1="258.10" y1="443.40" x2="274.10" y2="443.40" stroke="#333" stroke-width="0.9" />
<text x="232.0" y="495.6" font-size="7.2" fill="#333" text-anchor="middle" font-weight="normal" font-style="normal" font-family="Liberation Sans" >p=0.073</text>
<line x1="225.40" y1="499.40" x2="241.70" y2="499.40" stroke="#555" stroke-width="0.9" />
<line x1="215.50" y1="414.30" x2="215.50" y2="545.10" stroke="#333" stroke-width="0.8" />
<line x1="215.50" y1="545.10" x2="283.50" y2="545.10" stroke="#333" stroke-width="0.8" />
<line x1="212.70" y1="510.10" x2="215.50" y2="510.10" stroke="#444" stroke-width="0.8" />
<text x="211.2" y="512.7" font-size="7.4" fill="#60666e" text-anchor="end" font-weight="normal" font-style="normal" font-family="Liberation Sans" >10</text>
<line x1="212.70" y1="475.10" x2="215.50" y2="475.10" stroke="#444" stroke-width="0.8" />
<text x="211.2" y="477.70000000000005" font-size="7.4" fill="#60666e" text-anchor="end" font-weight="normal" font-style="normal" font-family="Liberation Sans" >20</text>
<line x1="212.70" y1="440.10" x2="215.50" y2="440.10" stroke="#444" stroke-width="0.8" />
<text x="211.2" y="442.70000000000005" font-size="7.4" fill="#60666e" text-anchor="end" font-weight="normal" font-style="normal" font-family="Liberation Sans" >30</text>
<text transform="translate(197.6,485.5) rotate(-90)" font-size="8.4" fill="#222" text-anchor="middle" font-family="Liberation Sans">Luciferase / Renilla</text>
<rect x="218.00" y="541.70" width="14.60" height="3.40" fill="#f3deb0" />
<rect x="234.50" y="519.00" width="14.30" height="26.10" fill="#f8c92c" />
<rect x="251.00" y="541.70" width="13.90" height="3.40" fill="#f5cfa5" />
<rect x="267.20" y="466.90" width="14.80" height="78.20" fill="#dc9436" />
<line x1="241.70" y1="513.70" x2="241.70" y2="524.10" stroke="#111" stroke-width="1.0" />
<line x1="239.20" y1="513.70" x2="244.20" y2="513.70" stroke="#111" stroke-width="1.0" />
<line x1="239.20" y1="524.10" x2="244.20" y2="524.10" stroke="#111" stroke-width="1.0" />
<line x1="274.40" y1="457.40" x2="274.40" y2="476.00" stroke="#111" stroke-width="1.0" />
<line x1="271.90" y1="457.40" x2="276.90" y2="457.40" stroke="#111" stroke-width="1.0" />
<circle cx="241.30" cy="509.30" r="1.8" fill="#fff" stroke="#111" stroke-width="0.95"/>
<circle cx="241.70" cy="520.30" r="1.8" fill="#fff" stroke="#111" stroke-width="0.95"/>
<circle cx="240.00" cy="527.00" r="1.8" fill="#fff" stroke="#111" stroke-width="0.95"/>
<line x1="222.00" y1="541.00" x2="227.00" y2="541.00" stroke="#111" stroke-width="0.8" />
<circle cx="223.00" cy="540.00" r="1.8" fill="#fff" stroke="#111" stroke-width="0.95"/>
<circle cx="225.50" cy="541.80" r="1.8" fill="#fff" stroke="#111" stroke-width="0.95"/>
<circle cx="226.60" cy="543.60" r="1.8" fill="#fff" stroke="#111" stroke-width="0.95"/>
<circle cx="255.00" cy="543.00" r="1.8" fill="#fff" stroke="#111" stroke-width="0.95"/>
<circle cx="257.50" cy="541.20" r="1.8" fill="#fff" stroke="#111" stroke-width="0.95"/>
<circle cx="259.30" cy="539.60" r="1.8" fill="#fff" stroke="#111" stroke-width="0.95"/>
<circle cx="276.30" cy="447.90" r="1.8" fill="#fff" stroke="#111" stroke-width="0.95"/>
<circle cx="274.30" cy="474.80" r="1.8" fill="#fff" stroke="#111" stroke-width="0.95"/>
<circle cx="273.70" cy="477.50" r="1.8" fill="#fff" stroke="#111" stroke-width="0.95"/>
<text x="210.8" y="555.5" font-size="7.3" fill="#666" text-anchor="end" font-weight="normal" font-style="normal" font-family="Liberation Sans" >pGL4.10</text>
<line x1="224.10" y1="552.90" x2="227.70" y2="552.90" stroke="#666" stroke-width="0.8" />
<line x1="225.90" y1="551.10" x2="225.90" y2="554.70" stroke="#666" stroke-width="0.8" />
<line x1="240.90" y1="552.90" x2="243.10" y2="552.90" stroke="#666" stroke-width="0.8" />
<line x1="256.70" y1="552.90" x2="260.30" y2="552.90" stroke="#666" stroke-width="0.8" />
<line x1="258.50" y1="551.10" x2="258.50" y2="554.70" stroke="#666" stroke-width="0.8" />
<line x1="273.90" y1="552.90" x2="276.10" y2="552.90" stroke="#666" stroke-width="0.8" />
<text x="210.8" y="566.6" font-size="7.3" fill="#666" text-anchor="end" font-weight="normal" font-style="normal" font-family="Liberation Sans" >URI reporter</text>
<line x1="224.80" y1="564.00" x2="227.00" y2="564.00" stroke="#666" stroke-width="0.8" />
<line x1="240.20" y1="564.00" x2="243.80" y2="564.00" stroke="#666" stroke-width="0.8" />
<line x1="242.00" y1="562.20" x2="242.00" y2="565.80" stroke="#666" stroke-width="0.8" />
<line x1="257.40" y1="564.00" x2="259.60" y2="564.00" stroke="#666" stroke-width="0.8" />
<line x1="273.20" y1="564.00" x2="276.80" y2="564.00" stroke="#666" stroke-width="0.8" />
<line x1="275.00" y1="562.20" x2="275.00" y2="565.80" stroke="#666" stroke-width="0.8" />
<text x="210.8" y="577.9" font-size="7.3" fill="#666" text-anchor="end" font-weight="normal" font-style="normal" font-family="Liberation Sans" >MYC</text>
<line x1="224.80" y1="575.30" x2="227.00" y2="575.30" stroke="#666" stroke-width="0.8" />
<line x1="240.90" y1="575.30" x2="243.10" y2="575.30" stroke="#666" stroke-width="0.8" />
<line x1="256.70" y1="575.30" x2="260.30" y2="575.30" stroke="#666" stroke-width="0.8" />
<line x1="258.50" y1="573.50" x2="258.50" y2="577.10" stroke="#666" stroke-width="0.8" />
<line x1="273.20" y1="575.30" x2="276.80" y2="575.30" stroke="#666" stroke-width="0.8" />
<line x1="275.00" y1="573.50" x2="275.00" y2="577.10" stroke="#666" stroke-width="0.8" />
<line x1="225.40" y1="545.10" x2="225.40" y2="546.90" stroke="#555" stroke-width="0.6" />
<line x1="241.70" y1="545.10" x2="241.70" y2="546.90" stroke="#555" stroke-width="0.6" />
<line x1="258.00" y1="545.10" x2="258.00" y2="546.90" stroke="#555" stroke-width="0.6" />
<line x1="274.40" y1="545.10" x2="274.40" y2="546.90" stroke="#555" stroke-width="0.6" />
<text x="300.4" y="413.6" font-size="14" fill="#111" text-anchor="start" font-weight="bold" font-style="normal" font-family="Liberation Sans" >g</text>
<text x="313.1" y="429.8" font-size="7.3" fill="#737880" text-anchor="start" font-weight="normal" font-style="normal" font-family="Liberation Sans" >si-MYC</text>
<line x1="347.20" y1="427.40" x2="349.90" y2="427.40" stroke="#444" stroke-width="0.8" />
<defs><linearGradient id="tg" x1="0" x2="1" y1="0" y2="0"><stop offset="0" stop-color="#7c8188"/><stop offset="1" stop-color="#4a4f56"/></linearGradient></defs>
<path d="M358.7,428.6 L415.3,416.8 L415.3,428.6 Z" fill="#5d6468"/>
<text x="419.5" y="421.7" font-size="7.6" fill="#333" text-anchor="start" font-weight="normal" font-style="normal" font-family="Liberation Sans" >MW</text>
<text x="419.5" y="430.8" font-size="7.6" fill="#333" text-anchor="start" font-weight="normal" font-style="normal" font-family="Liberation Sans" >(kDa)</text>
<defs><filter id="bl" x="-20%" y="-80%" width="140%" height="260%"><feGaussianBlur stdDeviation="0.6"/></filter></defs>
<rect x="337.60" y="433.40" width="79.20" height="21.10" fill="#e6e6e6" stroke="#7a7a7a" stroke-width="0.8"/>
<rect x="337.60" y="456.70" width="79.20" height="20.60" fill="#c3c6cb" stroke="#6a6d72" stroke-width="0.8"/>
<rect x="337.60" y="479.60" width="79.20" height="21.40" fill="#b8bbc0" stroke="#6a6d72" stroke-width="0.8"/>
<text x="336.1" y="448.3" font-size="8.8" fill="#222" text-anchor="end" font-weight="normal" font-style="normal" font-family="Liberation Sans" >MYC</text>
<text x="336.1" y="471.2" font-size="8.8" fill="#222" text-anchor="end" font-weight="normal" font-style="normal" font-family="Liberation Sans" >URI</text>
<text x="336.1" y="494.0" font-size="9.8" fill="#222" text-anchor="end" font-weight="normal" font-style="normal" font-family="Liberation Sans" >Vinculin</text>
<rect x="339.5" y="442.3" width="12.3" height="3.2" rx="1.5" fill="#b5b5b5" filter="url(#bl)"/>
<rect x="339.9" y="466.2" width="13.5" height="5.6" rx="2.2" fill="#080808" filter="url(#bl)"/>
<rect x="359.0" y="466.2" width="14.9" height="3.4" rx="1.6" fill="#1a1a1a" filter="url(#bl)"/>
<rect x="363.0" y="467.3" width="5.5" height="1.3" fill="#555" filter="url(#bl)"/>
<rect x="380.1" y="466.5" width="13.9" height="3.8" rx="1.8" fill="#4a4c50" filter="url(#bl)"/>
<rect x="399.8" y="466.6" width="14.2" height="2.8" rx="1.4" fill="#95989d" filter="url(#bl)"/>
<rect x="338.2" y="486.7" width="16.0" height="4.6" rx="2.2" fill="#0c0c0c" filter="url(#bl)"/>
<rect x="356.8" y="486.7" width="17.7" height="4.6" rx="2.2" fill="#0c0c0c" filter="url(#bl)"/>
<rect x="377.8" y="486.7" width="16.8" height="4.6" rx="2.2" fill="#0c0c0c" filter="url(#bl)"/>
<rect x="397.2" y="486.7" width="19.2" height="4.6" rx="2.2" fill="#0c0c0c" filter="url(#bl)"/>
<line x1="417.10" y1="451.30" x2="423.20" y2="451.30" stroke="#333" stroke-width="0.8" />
<text x="425.6" y="454.0" font-size="7.6" fill="#333" text-anchor="start" font-weight="normal" font-style="normal" font-family="Liberation Sans" >63</text>
<line x1="417.10" y1="460.30" x2="423.20" y2="460.30" stroke="#333" stroke-width="0.8" />
<text x="425.6" y="463.0" font-size="7.6" fill="#333" text-anchor="start" font-weight="normal" font-style="normal" font-family="Liberation Sans" >100</text>
<line x1="417.10" y1="474.30" x2="423.20" y2="474.30" stroke="#333" stroke-width="0.8" />
<text x="425.6" y="477.0" font-size="7.6" fill="#333" text-anchor="start" font-weight="normal" font-style="normal" font-family="Liberation Sans" >75</text>
<line x1="417.10" y1="482.50" x2="423.20" y2="482.50" stroke="#333" stroke-width="0.8" />
<text x="425.6" y="485.2" font-size="7.6" fill="#333" text-anchor="start" font-weight="normal" font-style="normal" font-family="Liberation Sans" >130</text>
<line x1="417.10" y1="497.30" x2="423.20" y2="497.30" stroke="#333" stroke-width="0.8" />
<text x="425.6" y="500.0" font-size="7.6" fill="#333" text-anchor="start" font-weight="normal" font-style="normal" font-family="Liberation Sans" >100</text>
</svg>
</body></html>
